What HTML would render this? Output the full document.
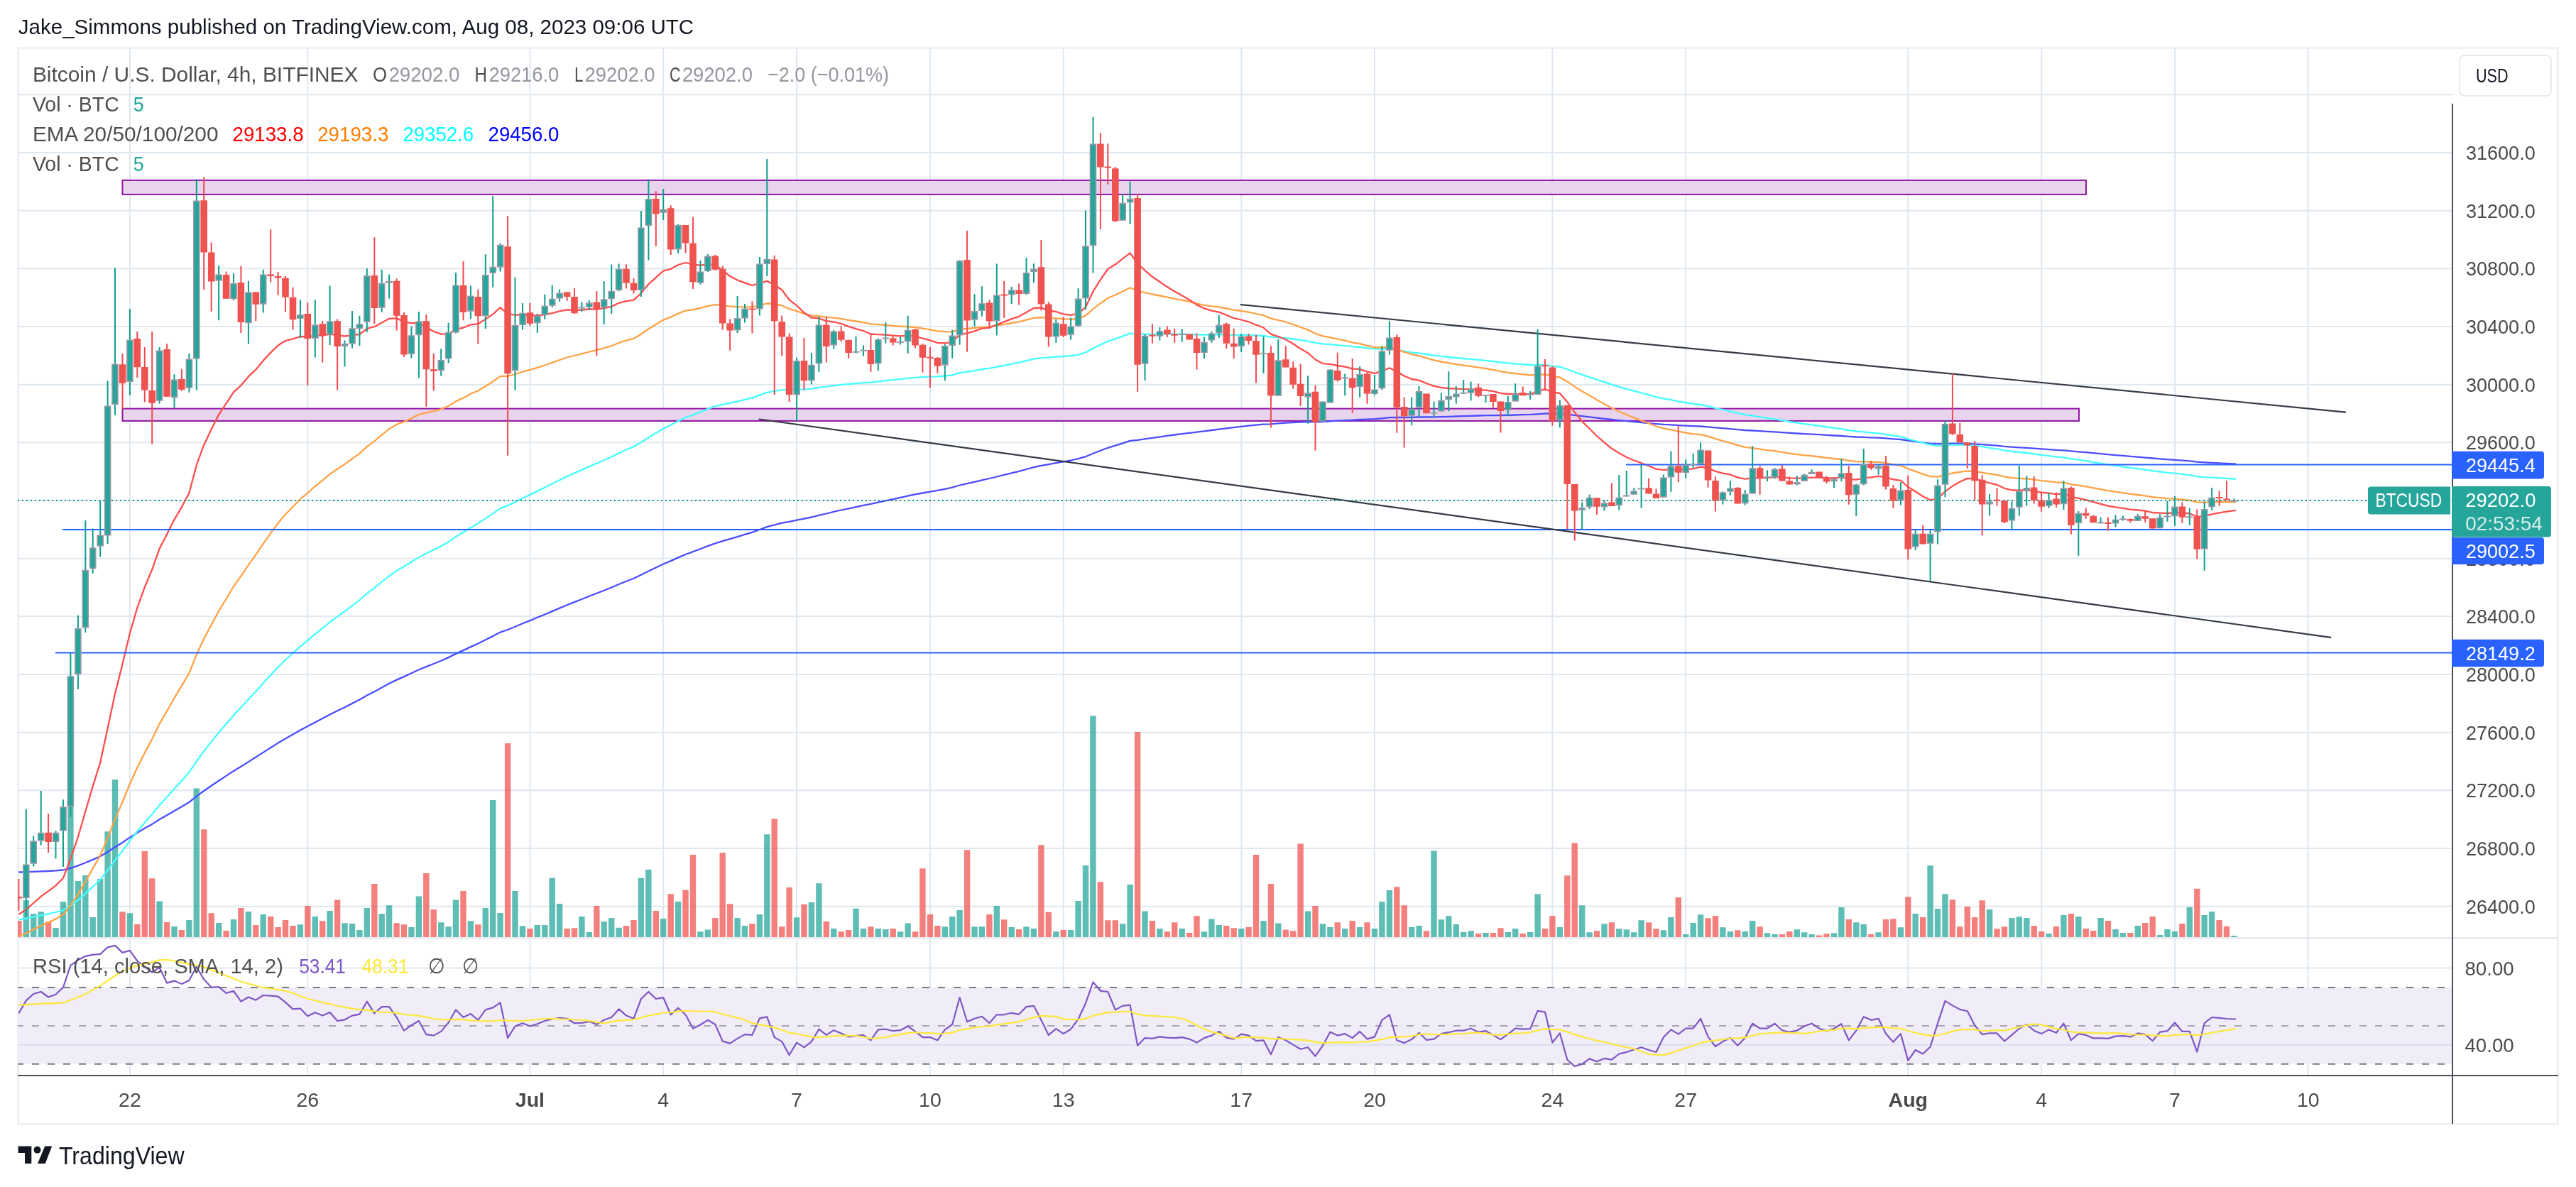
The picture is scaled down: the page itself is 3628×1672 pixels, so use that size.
<!DOCTYPE html><html><head><meta charset="utf-8"><style>html,body{margin:0;padding:0;background:#fff;width:3628px;height:1672px;overflow:hidden}svg{display:block;will-change:transform}text{font-family:"Liberation Sans",sans-serif}</style></head><body>
<svg width="3628" height="1672" viewBox="0 0 3628 1672">
<rect width="3628" height="1672" fill="#fff"/>
<defs><clipPath id="cp"><rect x="25" y="67" width="3428.5" height="1254"/></clipPath><clipPath id="cr"><rect x="25" y="1322" width="3428.5" height="192"/></clipPath></defs>
<path d="M25 133.3H3453.5M25 215H3453.5M25 296.7H3453.5M25 378.3H3453.5M25 460H3453.5M25 541.7H3453.5M25 623.3H3453.5M25 705H3453.5M25 786.7H3453.5M25 868.3H3453.5M25 950H3453.5M25 1031.7H3453.5M25 1113.3H3453.5M25 1195H3453.5M25 1276.7H3453.5M25 1363.5H3453.5M25 1471.7H3453.5M182.9 67V1514M433.3 67V1514M746.4 67V1514M934.2 67V1514M1122 67V1514M1309.9 67V1514M1497.7 67V1514M1748.2 67V1514M1936 67V1514M2186.4 67V1514M2374.2 67V1514M2687.3 67V1514M2875.1 67V1514M3063 67V1514M3250.8 67V1514" stroke="#dfe8f0" stroke-width="2" fill="none"/>
<rect x="25.5" y="67.5" width="3577" height="1516" fill="none" stroke="#e6e9ef" stroke-width="2"/>
<path d="M25 1321.3H3603" stroke="#e0e3eb" stroke-width="2"/>
<rect x="25" y="1391" width="3428.5" height="107.8" fill="#f0ecf8"/>
<path d="M25 1391H3453.5 M25 1498.8H3453.5" stroke="#787b86" stroke-width="2" stroke-dasharray="10 12" stroke-dashoffset="2"/>
<path d="M25 1445H3453.5" stroke="#a9a6b3" stroke-width="2" stroke-dasharray="10 12" stroke-dashoffset="2"/>
<path d="M25 1471.7H3453.5" stroke="#d8dff0" stroke-width="2"/>
<g clip-path="url(#cp)">
<rect x="172.5" y="253.9" width="2765.5" height="20" fill="#e9d4ee" stroke="#9115a3" stroke-width="2"/>
<rect x="172.5" y="575.6" width="2755.5" height="17.3" fill="#e9d4ee" stroke="#9115a3" stroke-width="2"/>
<path d="M32.6 1268h8.4V1320h-8.4zM43 1287.2h8.4V1320h-8.4zM53.5 1284.2h8.4V1320h-8.4zM74.3 1307h8.4V1320h-8.4zM84.8 1270.3h8.4V1320h-8.4zM95.2 1098h8.4V1320h-8.4zM105.7 1241h8.4V1320h-8.4zM116.1 1233.1h8.4V1320h-8.4zM126.5 1292.1h8.4V1320h-8.4zM137 1238h8.4V1320h-8.4zM147.4 1171.2h8.4V1320h-8.4zM157.8 1098h8.4V1320h-8.4zM178.7 1286.2h8.4V1320h-8.4zM220.4 1269.4h8.4V1320h-8.4zM241.3 1305.1h8.4V1320h-8.4zM262.2 1296h8.4V1320h-8.4zM272.6 1110.6h8.4V1320h-8.4zM303.9 1300.1h8.4V1320h-8.4zM324.8 1295.1h8.4V1320h-8.4zM345.7 1284h8.4V1320h-8.4zM366.5 1288h8.4V1320h-8.4zM418.7 1302.2h8.4V1320h-8.4zM439.6 1291h8.4V1320h-8.4zM460.4 1283h8.4V1320h-8.4zM481.3 1300.2h8.4V1320h-8.4zM491.8 1300.9h8.4V1320h-8.4zM502.2 1310.1h8.4V1320h-8.4zM512.6 1279.1h8.4V1320h-8.4zM533.5 1287.3h8.4V1320h-8.4zM543.9 1275.3h8.4V1320h-8.4zM575.2 1305.9h8.4V1320h-8.4zM585.7 1262.4h8.4V1320h-8.4zM617 1299.2h8.4V1320h-8.4zM627.4 1305.2h8.4V1320h-8.4zM637.8 1267.4h8.4V1320h-8.4zM658.7 1297.2h8.4V1320h-8.4zM679.6 1279.1h8.4V1320h-8.4zM690 1126.9h8.4V1320h-8.4zM700.4 1286h8.4V1320h-8.4zM721.3 1255h8.4V1320h-8.4zM731.8 1304.2h8.4V1320h-8.4zM752.6 1302.9h8.4V1320h-8.4zM763.1 1302.9h8.4V1320h-8.4zM773.5 1236.8h8.4V1320h-8.4zM783.9 1273.1h8.4V1320h-8.4zM815.2 1291h8.4V1320h-8.4zM825.7 1312.9h8.4V1320h-8.4zM846.5 1298h8.4V1320h-8.4zM857 1293h8.4V1320h-8.4zM867.4 1306.7h8.4V1320h-8.4zM898.7 1236.8h8.4V1320h-8.4zM909.1 1225.1h8.4V1320h-8.4zM930 1294h8.4V1320h-8.4zM950.9 1269.9h8.4V1320h-8.4zM982.2 1312.2h8.4V1320h-8.4zM992.6 1309.4h8.4V1320h-8.4zM1034.4 1293h8.4V1320h-8.4zM1044.8 1303.9h8.4V1320h-8.4zM1065.7 1288.1h8.4V1320h-8.4zM1076.1 1175.2h8.4V1320h-8.4zM1117.9 1292.2h8.4V1320h-8.4zM1138.7 1271.1h8.4V1320h-8.4zM1149.2 1244.3h8.4V1320h-8.4zM1170 1308h8.4V1320h-8.4zM1201.3 1279.8h8.4V1320h-8.4zM1211.8 1308h8.4V1320h-8.4zM1232.6 1308h8.4V1320h-8.4zM1243.1 1308.9h8.4V1320h-8.4zM1263.9 1312.2h8.4V1320h-8.4zM1274.4 1300.4h8.4V1320h-8.4zM1326.6 1305.3h8.4V1320h-8.4zM1337 1291.1h8.4V1320h-8.4zM1347.4 1282h8.4V1320h-8.4zM1368.3 1305.3h8.4V1320h-8.4zM1378.7 1305.3h8.4V1320h-8.4zM1399.6 1276h8.4V1320h-8.4zM1420.5 1306.1h8.4V1320h-8.4zM1441.3 1305.3h8.4V1320h-8.4zM1451.8 1308h8.4V1320h-8.4zM1483.1 1312.2h8.4V1320h-8.4zM1503.9 1310h8.4V1320h-8.4zM1514.4 1268.9h8.4V1320h-8.4zM1524.8 1219.1h8.4V1320h-8.4zM1535.2 1008.2h8.4V1320h-8.4zM1577 1301.2h8.4V1320h-8.4zM1587.4 1245.9h8.4V1320h-8.4zM1608.3 1283.4h8.4V1320h-8.4zM1629.2 1308h8.4V1320h-8.4zM1660.5 1308h8.4V1320h-8.4zM1691.8 1312.2h8.4V1320h-8.4zM1702.2 1294.4h8.4V1320h-8.4zM1712.6 1303.1h8.4V1320h-8.4zM1744 1308h8.4V1320h-8.4zM1775.3 1297.1h8.4V1320h-8.4zM1796.1 1300.4h8.4V1320h-8.4zM1837.9 1283.4h8.4V1320h-8.4zM1858.7 1301.2h8.4V1320h-8.4zM1869.2 1306.1h8.4V1320h-8.4zM1890 1308h8.4V1320h-8.4zM1910.9 1306.1h8.4V1320h-8.4zM1931.8 1308h8.4V1320h-8.4zM1942.2 1270.3h8.4V1320h-8.4zM1952.7 1254.1h8.4V1320h-8.4zM1984 1306.1h8.4V1320h-8.4zM1994.4 1303.9h8.4V1320h-8.4zM2015.3 1198.5h8.4V1320h-8.4zM2025.7 1295.2h8.4V1320h-8.4zM2036.1 1290.3h8.4V1320h-8.4zM2046.6 1302h8.4V1320h-8.4zM2057 1313h8.4V1320h-8.4zM2067.4 1311.3h8.4V1320h-8.4zM2088.3 1314.1h8.4V1320h-8.4zM2119.6 1313h8.4V1320h-8.4zM2130 1308h8.4V1320h-8.4zM2150.9 1313h8.4V1320h-8.4zM2161.4 1259.3h8.4V1320h-8.4zM2192.7 1306.1h8.4V1320h-8.4zM2224 1275.2h8.4V1320h-8.4zM2234.4 1313.2h8.4V1320h-8.4zM2255.3 1301.2h8.4V1320h-8.4zM2276.1 1308.2h8.4V1320h-8.4zM2286.6 1309.2h8.4V1320h-8.4zM2297 1313.2h8.4V1320h-8.4zM2307.4 1296.3h8.4V1320h-8.4zM2338.7 1310.2h8.4V1320h-8.4zM2349.2 1292h8.4V1320h-8.4zM2370.1 1316.1h8.4V1320h-8.4zM2380.5 1300h8.4V1320h-8.4zM2390.9 1288.3h8.4V1320h-8.4zM2422.2 1306.2h8.4V1320h-8.4zM2432.7 1311.9h8.4V1320h-8.4zM2453.5 1311.9h8.4V1320h-8.4zM2464 1297h8.4V1320h-8.4zM2484.8 1314.2h8.4V1320h-8.4zM2495.3 1316.1h8.4V1320h-8.4zM2526.6 1309.2h8.4V1320h-8.4zM2537 1313.2h8.4V1320h-8.4zM2547.4 1316.1h8.4V1320h-8.4zM2578.8 1314.2h8.4V1320h-8.4zM2589.2 1277.9h8.4V1320h-8.4zM2610.1 1299.3h8.4V1320h-8.4zM2620.5 1302h8.4V1320h-8.4zM2641.4 1313.2h8.4V1320h-8.4zM2672.7 1306.2h8.4V1320h-8.4zM2693.5 1287.1h8.4V1320h-8.4zM2714.4 1219.3h8.4V1320h-8.4zM2724.8 1280.1h8.4V1320h-8.4zM2735.3 1259.3h8.4V1320h-8.4zM2797.9 1281.1h8.4V1320h-8.4zM2829.2 1293h8.4V1320h-8.4zM2839.6 1291.3h8.4V1320h-8.4zM2850.1 1293h8.4V1320h-8.4zM2881.4 1315h8.4V1320h-8.4zM2902.2 1289.1h8.4V1320h-8.4zM2923.1 1290.9h8.4V1320h-8.4zM2954.4 1293h8.4V1320h-8.4zM2975.3 1308.9h8.4V1320h-8.4zM2985.7 1313.9h8.4V1320h-8.4zM3006.6 1304h8.4V1320h-8.4zM3037.9 1316.9h8.4V1320h-8.4zM3048.3 1308.9h8.4V1320h-8.4zM3058.8 1311.9h8.4V1320h-8.4zM3079.6 1277.9h8.4V1320h-8.4zM3100.5 1288.9h8.4V1320h-8.4zM3110.9 1284h8.4V1320h-8.4zM3142.2 1317.9h8.4V1320h-8.4z" fill="#26a69a" fill-opacity="0.74"/>
<path d="M22.2 1297.1h8.4V1320h-8.4zM63.9 1298.3h8.4V1320h-8.4zM168.3 1284.2h8.4V1320h-8.4zM189.1 1302.1h8.4V1320h-8.4zM199.6 1199h8.4V1320h-8.4zM210 1237.2h8.4V1320h-8.4zM230.9 1299.1h8.4V1320h-8.4zM251.7 1310h8.4V1320h-8.4zM283.1 1168.2h8.4V1320h-8.4zM293.5 1286.2h8.4V1320h-8.4zM314.4 1311h8.4V1320h-8.4zM335.2 1279h8.4V1320h-8.4zM356.1 1302.9h8.4V1320h-8.4zM377 1291h8.4V1320h-8.4zM387.4 1305.9h8.4V1320h-8.4zM397.8 1296h8.4V1320h-8.4zM408.3 1303.9h8.4V1320h-8.4zM429.1 1276.1h8.4V1320h-8.4zM450 1297.2h8.4V1320h-8.4zM470.9 1267.4h8.4V1320h-8.4zM523.1 1245h8.4V1320h-8.4zM554.4 1300.2h8.4V1320h-8.4zM564.8 1302.2h8.4V1320h-8.4zM596.1 1230.1h8.4V1320h-8.4zM606.5 1281.1h8.4V1320h-8.4zM648.3 1255h8.4V1320h-8.4zM669.1 1302.2h8.4V1320h-8.4zM710.9 1046.9h8.4V1320h-8.4zM742.2 1307.9h8.4V1320h-8.4zM794.4 1307.9h8.4V1320h-8.4zM804.8 1307.2h8.4V1320h-8.4zM836.1 1276.1h8.4V1320h-8.4zM877.8 1303.9h8.4V1320h-8.4zM888.3 1296h8.4V1320h-8.4zM919.6 1283h8.4V1320h-8.4zM940.5 1259.2h8.4V1320h-8.4zM961.3 1253.7h8.4V1320h-8.4zM971.8 1204h8.4V1320h-8.4zM1003.1 1293h8.4V1320h-8.4zM1013.5 1201.3h8.4V1320h-8.4zM1023.9 1273.3h8.4V1320h-8.4zM1055.2 1301.2h8.4V1320h-8.4zM1086.5 1153.3h8.4V1320h-8.4zM1097 1305.3h8.4V1320h-8.4zM1107.4 1250h8.4V1320h-8.4zM1128.3 1273.8h8.4V1320h-8.4zM1159.6 1297.9h8.4V1320h-8.4zM1180.5 1312.2h8.4V1320h-8.4zM1190.9 1310h8.4V1320h-8.4zM1222.2 1305.3h8.4V1320h-8.4zM1253.5 1308h8.4V1320h-8.4zM1284.8 1312.2h8.4V1320h-8.4zM1295.2 1223.2h8.4V1320h-8.4zM1305.7 1288.1h8.4V1320h-8.4zM1316.1 1303.9h8.4V1320h-8.4zM1357.9 1197.2h8.4V1320h-8.4zM1389.2 1288.1h8.4V1320h-8.4zM1410 1295.2h8.4V1320h-8.4zM1430.9 1308.9h8.4V1320h-8.4zM1462.2 1190.3h8.4V1320h-8.4zM1472.6 1284.8h8.4V1320h-8.4zM1493.5 1310h8.4V1320h-8.4zM1545.7 1242.3h8.4V1320h-8.4zM1556.1 1296.3h8.4V1320h-8.4zM1566.6 1296.3h8.4V1320h-8.4zM1597.9 1030.9h8.4V1320h-8.4zM1618.7 1297.1h8.4V1320h-8.4zM1639.6 1312.2h8.4V1320h-8.4zM1650 1299.3h8.4V1320h-8.4zM1670.9 1314.1h8.4V1320h-8.4zM1681.3 1290.3h8.4V1320h-8.4zM1723.1 1303.9h8.4V1320h-8.4zM1733.5 1307.2h8.4V1320h-8.4zM1754.4 1306.1h8.4V1320h-8.4zM1764.8 1204h8.4V1320h-8.4zM1785.7 1245.1h8.4V1320h-8.4zM1806.6 1309.4h8.4V1320h-8.4zM1817 1311.3h8.4V1320h-8.4zM1827.4 1188.4h8.4V1320h-8.4zM1848.3 1276h8.4V1320h-8.4zM1879.6 1299.3h8.4V1320h-8.4zM1900.5 1297.1h8.4V1320h-8.4zM1921.3 1299.3h8.4V1320h-8.4zM1963.1 1249.2h8.4V1320h-8.4zM1973.5 1275.2h8.4V1320h-8.4zM2004.8 1311.3h8.4V1320h-8.4zM2077.9 1314.9h8.4V1320h-8.4zM2098.7 1314.1h8.4V1320h-8.4zM2109.2 1307.2h8.4V1320h-8.4zM2140.5 1314.9h8.4V1320h-8.4zM2171.8 1308h8.4V1320h-8.4zM2182.2 1290.3h8.4V1320h-8.4zM2203.1 1233.3h8.4V1320h-8.4zM2213.5 1187.6h8.4V1320h-8.4zM2244.8 1311.2h8.4V1320h-8.4zM2265.7 1299.3h8.4V1320h-8.4zM2317.9 1299.3h8.4V1320h-8.4zM2328.3 1308.2h8.4V1320h-8.4zM2359.6 1264h8.4V1320h-8.4zM2401.4 1293.3h8.4V1320h-8.4zM2411.8 1290.1h8.4V1320h-8.4zM2443.1 1310.2h8.4V1320h-8.4zM2474.4 1305.2h8.4V1320h-8.4zM2505.7 1316.1h8.4V1320h-8.4zM2516.1 1311.9h8.4V1320h-8.4zM2557.9 1317.4h8.4V1320h-8.4zM2568.3 1315.2h8.4V1320h-8.4zM2599.6 1295h8.4V1320h-8.4zM2630.9 1316.1h8.4V1320h-8.4zM2651.8 1295h8.4V1320h-8.4zM2662.2 1294.3h8.4V1320h-8.4zM2683.1 1263.2h8.4V1320h-8.4zM2704 1292h8.4V1320h-8.4zM2745.7 1267.2h8.4V1320h-8.4zM2756.1 1305.2h8.4V1320h-8.4zM2766.6 1277.1h8.4V1320h-8.4zM2777 1292h8.4V1320h-8.4zM2787.5 1268.2h8.4V1320h-8.4zM2808.3 1308.2h8.4V1320h-8.4zM2818.8 1305.2h8.4V1320h-8.4zM2860.5 1304h8.4V1320h-8.4zM2870.9 1312h8.4V1320h-8.4zM2891.8 1305.1h8.4V1320h-8.4zM2912.7 1287.1h8.4V1320h-8.4zM2933.5 1308h8.4V1320h-8.4zM2944 1311.1h8.4V1320h-8.4zM2964.8 1297h8.4V1320h-8.4zM2996.2 1313.9h8.4V1320h-8.4zM3017 1299.9h8.4V1320h-8.4zM3027.5 1290.9h8.4V1320h-8.4zM3069.2 1300.9h8.4V1320h-8.4zM3090.1 1251.8h8.4V1320h-8.4zM3121.4 1295.9h8.4V1320h-8.4zM3131.8 1304.8h8.4V1320h-8.4z" fill="#ef5350" fill-opacity="0.74"/>
<polyline points="26.4,1228.5 36.8,1228.4 47.2,1227.9 57.7,1227.4 68.1,1227 78.5,1226.4 89,1225.5 99.4,1222.8 109.9,1219.4 120.3,1215.3 130.7,1210.9 141.2,1206.3 151.6,1200 162,1193.2 172.5,1186.7 182.9,1179.6 193.3,1173 203.8,1166.8 214.2,1160.9 224.6,1154.2 235.1,1148.3 245.5,1142.2 255.9,1136.3 266.4,1130 276.8,1121.6 287.2,1114 297.7,1106.8 308.1,1099.7 318.6,1092.9 329,1086 339.4,1079.7 349.9,1073.1 360.3,1066.6 370.7,1059.9 381.2,1053.2 391.6,1046.6 402,1040.4 412.5,1034.5 422.9,1028.6 433.3,1023.1 443.8,1017.5 454.2,1012.1 464.6,1006.5 475.1,1001.3 485.5,996.2 496,990.9 506.4,985.6 516.8,979.6 527.3,974.2 537.7,968.5 548.1,962.8 558.6,957.6 569,953.1 579.4,948.3 589.9,943.3 600.3,939.1 610.7,935 621.2,930.7 631.6,926.1 642,920.9 652.5,916.1 662.9,911.1 673.3,906.5 683.8,901.3 694.2,896.1 704.6,890.6 715.1,887 725.5,882.7 736,878.3 746.4,874.1 756.8,869.8 767.3,865.5 777.7,861.1 788.1,856.6 798.6,852.2 809,848.1 819.4,844 829.9,839.8 840.3,835.8 850.7,831.7 861.2,827.5 871.6,823 882,818.8 892.5,814.7 902.9,809.8 913.4,804.5 923.8,799.5 934.2,794.5 944.7,790.1 955.1,785.4 965.5,781 976,777.2 986.4,773.2 996.8,769.1 1007.3,765.3 1017.7,762.2 1028.1,759.2 1038.6,756.1 1049,752.9 1059.4,749.8 1069.9,746 1080.3,742.2 1090.7,739.3 1101.2,736.7 1111.6,734.9 1122.1,732.7 1132.5,730.7 1142.9,728.5 1153.4,725.8 1163.8,723.5 1174.2,720.9 1184.7,718.5 1195.1,716.3 1205.5,714.1 1216,711.9 1226.4,709.9 1236.8,707.6 1247.3,705.3 1257.7,703.1 1268.1,700.9 1278.6,698.5 1289,696.4 1299.4,694.5 1309.9,692.6 1320.3,690.8 1330.8,688.8 1341.2,686.7 1351.6,683.5 1362.1,681.2 1372.5,678.8 1382.9,676.3 1393.4,674 1403.8,671.5 1414.2,668.9 1424.7,666.3 1435.1,663.8 1445.5,661 1456,658.2 1466.4,655.9 1476.8,654.1 1487.3,652.1 1497.7,650.4 1508.1,648.5 1518.6,646.2 1529,643.2 1539.5,638.8 1549.9,634.8 1560.3,630.8 1570.8,627.7 1581.2,624.3 1591.6,620.8 1602.1,619.8 1612.5,618.3 1622.9,616.9 1633.4,615.4 1643.8,613.9 1654.2,612.5 1664.7,611.1 1675.1,609.8 1685.5,608.7 1696,607.4 1706.4,606 1716.8,604.6 1727.3,603.4 1737.7,602.2 1748.2,600.9 1758.6,599.7 1769,598.7 1779.5,597.7 1789.9,597.3 1800.3,596.4 1810.8,595.6 1821.2,595.1 1831.6,594.7 1842.1,594.3 1852.5,594.3 1862.9,594 1873.4,593.3 1883.8,592.7 1894.2,592.1 1904.7,591.7 1915.1,591 1925.5,590.7 1936,590.2 1946.4,589.3 1956.9,588.2 1967.3,588 1977.7,588 1988.2,587.9 1998.6,587.5 2009,587.5 2019.5,587.4 2029.9,587.1 2040.3,586.9 2050.8,586.5 2061.2,586.2 2071.6,585.8 2082.1,585.5 2092.5,585.2 2102.9,585.1 2113.4,585 2123.8,584.8 2134.2,584.5 2144.7,584.2 2155.1,583.9 2165.6,583.3 2176,582.6 2186.4,582.7 2196.9,582.6 2207.3,583.6 2217.7,584.9 2228.2,586.2 2238.6,587.3 2249,588.6 2259.5,589.8 2269.9,591 2280.3,592.1 2290.8,593.2 2301.2,594.1 2311.6,595.1 2322.1,596.1 2332.5,597.1 2342.9,597.9 2353.4,598.4 2363.8,599.1 2374.2,599.7 2384.7,600.2 2395.1,600.5 2405.6,601.3 2416,602.3 2426.4,603.2 2436.9,604.1 2447.3,605.1 2457.7,606 2468.2,606.5 2478.6,607.2 2489,607.8 2499.5,608.4 2509.9,609.1 2520.3,609.8 2530.8,610.5 2541.2,611.1 2551.6,611.6 2562.1,612.2 2572.5,612.9 2583,613.5 2593.4,614 2603.8,614.8 2614.3,615.5 2624.7,615.9 2635.1,616.3 2645.6,616.7 2656,617.4 2666.4,618.3 2676.9,619 2687.3,620.5 2697.7,621.8 2708.2,623.3 2718.6,624.6 2729,625.1 2739.5,624.9 2749.9,624.7 2760.3,624.7 2770.8,624.7 2781.2,625.3 2791.7,626.1 2802.1,626.9 2812.5,627.7 2823,628.8 2833.4,629.6 2843.8,630.3 2854.3,630.8 2864.7,631.6 2875.1,632.4 2885.6,633.1 2896,633.9 2906.4,634.4 2916.9,635.4 2927.3,636.3 2937.7,637.2 2948.2,638.2 2958.6,639.2 2969,640.1 2979.5,641.1 2989.9,641.9 3000.4,642.9 3010.8,643.7 3021.2,644.6 3031.7,645.5 3042.1,646.4 3052.5,647.2 3063,647.8 3073.4,648.6 3083.8,649.4 3094.3,650.7 3104.7,651.3 3115.1,651.8 3125.6,652.3 3136,652.8 3146.4,653.3 3149,653.3" fill="none" stroke="#4d4dff" stroke-width="2.3" stroke-linejoin="round"/>
<polyline points="26.4,1295.4 36.8,1293.9 47.2,1291.7 57.7,1289.3 68.1,1287.3 78.5,1285 89,1282.1 99.4,1275.5 109.9,1267.8 120.3,1258.6 130.7,1249 141.2,1239.1 151.6,1225.9 162,1211.8 172.5,1198.5 182.9,1184.2 193.3,1171 203.8,1158.7 214.2,1147 224.6,1134.1 235.1,1122.7 245.5,1111 255.9,1099.9 266.4,1088.1 276.8,1072.2 287.2,1058 297.7,1044.9 308.1,1031.8 318.6,1019.7 329,1007.4 339.4,996.5 349.9,984.9 360.3,973.9 370.7,962.3 381.2,950.9 391.6,939.8 402,929.5 412.5,920 422.9,910.6 433.3,902 443.8,893.2 454.2,884.9 464.6,876.3 475.1,868.6 485.5,861 496,853.1 506.4,845.2 516.8,836.2 527.3,828.2 537.7,819.7 548.1,811.3 558.6,804.1 569,798 579.4,791.6 589.9,784.9 600.3,779.6 610.7,774.5 621.2,769.2 631.6,763.3 642,756.1 652.5,749.8 662.9,743.2 673.3,737.3 683.8,730.4 694.2,723.4 704.6,715.9 715.1,712.1 725.5,707.1 736,701.8 746.4,696.9 756.8,691.9 767.3,686.8 777.7,681.5 788.1,676.2 798.6,671.1 809,666.5 819.4,661.9 829.9,657.2 840.3,652.8 850.7,648.3 861.2,643.5 871.6,638.3 882,633.5 892.5,629.1 902.9,623 913.4,616.2 923.8,610 934.2,603.7 944.7,598.7 955.1,593.1 965.5,588.2 976,584.4 986.4,580.4 996.8,576.1 1007.3,572.2 1017.7,569.9 1028.1,567.8 1038.6,565.4 1049,562.8 1059.4,560.3 1069.9,556.6 1080.3,552.8 1090.7,550.8 1101.2,549.3 1111.6,549.4 1122.1,548.6 1132.5,548.3 1142.9,547.7 1153.4,545.9 1163.8,544.7 1174.2,543.2 1184.7,541.9 1195.1,541 1205.5,540.1 1216,539.2 1226.4,538.6 1236.8,537.4 1247.3,536.2 1257.7,535.1 1268.1,534.1 1278.6,532.7 1289,531.8 1299.4,531.2 1309.9,530.7 1320.3,530.4 1330.8,529.5 1341.2,528.4 1351.6,525.2 1362.1,523.8 1372.5,522.1 1382.9,520.2 1393.4,518.8 1403.8,516.8 1414.2,514.8 1424.7,512.7 1435.1,510.7 1445.5,508.2 1456,505.7 1466.4,504.1 1476.8,503.6 1487.3,502.6 1497.7,502 1508.1,501.2 1518.6,499.6 1529,496.5 1539.5,490.7 1549.9,485.6 1560.3,480.7 1570.8,477.4 1581.2,473.6 1591.6,469.7 1602.1,470.6 1612.5,470.6 1622.9,470.7 1633.4,470.6 1643.8,470.6 1654.2,470.7 1664.7,470.7 1675.1,470.8 1685.5,471.3 1696,471.5 1706.4,471.5 1716.8,471.2 1727.3,471.5 1737.7,471.8 1748.2,471.8 1758.6,472 1769,472.6 1779.5,473 1789.9,474.7 1800.3,475.4 1810.8,476.2 1821.2,477.5 1831.6,479.1 1842.1,480.6 1852.5,482.8 1862.9,484.4 1873.4,485.2 1883.8,486.2 1894.2,487.1 1904.7,488.2 1915.1,489 1925.5,490.3 1936,491.4 1946.4,491.5 1956.9,491.2 1967.3,492.8 1977.7,494.7 1988.2,496.3 1998.6,497.4 2009,499 2019.5,500.7 2029.9,501.9 2040.3,503 2050.8,504 2061.2,505 2071.6,505.8 2082.1,506.9 2092.5,507.8 2102.9,509 2113.4,510.4 2123.8,511.5 2134.2,512.3 2144.7,513.2 2155.1,514 2165.6,514.1 2176,514.1 2186.4,515.7 2196.9,516.8 2207.3,520 2217.7,524 2228.2,527.8 2238.6,531.2 2249,534.8 2259.5,538.2 2269.9,541.7 2280.3,544.8 2290.8,547.9 2301.2,550.7 2311.6,553.4 2322.1,556.2 2332.5,559.1 2342.9,561.4 2353.4,563.2 2363.8,565.3 2374.2,567 2384.7,568.8 2395.1,570 2405.6,572.1 2416,574.8 2426.4,577.1 2436.9,579.3 2447.3,581.9 2457.7,584.1 2468.2,585.6 2478.6,587.4 2489,589 2499.5,590.4 2509.9,592.2 2520.3,594 2530.8,595.6 2541.2,597.1 2551.6,598.4 2562.1,599.9 2572.5,601.5 2583,602.9 2593.4,604.2 2603.8,606 2614.3,607.5 2624.7,608.4 2635.1,609.4 2645.6,610.4 2656,611.9 2666.4,613.7 2676.9,615.2 2687.3,618.4 2697.7,621 2708.2,623.9 2718.6,626.4 2729,627.6 2739.5,627 2749.9,626.6 2760.3,626.6 2770.8,626.6 2781.2,627.6 2791.7,629.2 2802.1,630.8 2812.5,632.3 2823,634.3 2833.4,635.9 2843.8,637 2854.3,638 2864.7,639.3 2875.1,640.8 2885.6,642.1 2896,643.4 2906.4,644.3 2916.9,646.2 2927.3,647.7 2937.7,649.2 2948.2,651 2958.6,652.6 2969,654.3 2979.5,655.9 2989.9,657.3 3000.4,658.8 3010.8,660.2 3021.2,661.6 3031.7,663.2 3042.1,664.5 3052.5,665.8 3063,666.7 3073.4,667.9 3083.8,669.1 3094.3,671.2 3104.7,672.1 3115.1,672.7 3125.6,673.2 3136,673.8 3146.4,674.5 3149,674.5" fill="none" stroke="#45ffff" stroke-width="2.3" stroke-linejoin="round"/>
<polyline points="26.4,1318.4 36.8,1314.5 47.2,1309.4 57.7,1304 68.1,1299.4 78.5,1294.4 89,1288.2 99.4,1275.1 109.9,1259.8 120.3,1241.8 130.7,1223.4 141.2,1205 151.6,1180.1 162,1153.9 172.5,1129.8 182.9,1104.3 193.3,1081.3 203.8,1060.4 214.2,1041.1 224.6,1019.6 235.1,1001.6 245.5,983.2 255.9,966.2 266.4,948.1 276.8,922 287.2,899.8 297.7,880.1 308.1,860.7 318.6,843.5 329,826 339.4,811.4 349.9,795.8 360.3,781.4 370.7,765.9 381.2,751.1 391.6,737 402,724.5 412.5,713.8 422.9,703.1 433.3,694.3 443.8,685 454.2,676.6 464.6,667.8 475.1,660.8 485.5,653.9 496,646.3 506.4,638.9 516.8,629.1 527.3,621.4 537.7,612.7 548.1,604.2 558.6,597.9 569,594.1 579.4,589.3 589.9,583.9 600.3,581.4 610.7,579.1 621.2,576.3 631.6,572 642,565.4 652.5,560.4 662.9,554.8 673.3,550.5 683.8,544.1 694.2,537.5 704.6,529.9 715.1,529.8 725.5,527 736,523.6 746.4,520.9 756.8,517.9 767.3,514.5 777.7,510.8 788.1,507 798.6,503.5 809,501 819.4,498.4 829.9,495.5 840.3,493.2 850.7,490.4 861.2,487.2 871.6,483 882,479.7 892.5,476.9 902.9,470.8 913.4,463.3 923.8,456.9 934.2,450.6 944.7,446.7 955.1,441.6 965.5,437.7 976,436.1 986.4,434 996.8,431.1 1007.3,429.1 1017.7,430.2 1028.1,431.6 1038.6,432.2 1049,432.3 1059.4,432.4 1069.9,430.1 1080.3,427.5 1090.7,428.5 1101.2,430.3 1111.6,435.2 1122.1,438.1 1132.5,441.9 1142.9,444.7 1153.4,445.2 1163.8,446.9 1174.2,447.7 1184.7,448.9 1195.1,450.8 1205.5,452.5 1216,454.1 1226.4,456.4 1236.8,457.2 1247.3,457.9 1257.7,458.9 1268.1,459.8 1278.6,460 1289,461 1299.4,462.7 1309.9,464.3 1320.3,466.3 1330.8,467.1 1341.2,467.4 1351.6,463.4 1362.1,463 1372.5,462 1382.9,460.6 1393.4,460.3 1403.8,458.5 1414.2,456.9 1424.7,455 1435.1,453.4 1445.5,450.6 1456,447.8 1466.4,447.1 1476.8,448.1 1487.3,448.4 1497.7,449.3 1508.1,449.7 1518.6,448.6 1529,444.6 1539.5,435.1 1549.9,427.3 1560.3,419.8 1570.8,415.5 1581.2,410.5 1591.6,405.3 1602.1,409.6 1612.5,412.1 1622.9,414.5 1633.4,416.5 1643.8,418.6 1654.2,420.8 1664.7,422.7 1675.1,424.9 1685.5,427.7 1696,429.8 1706.4,431.4 1716.8,432.4 1727.3,434.5 1737.7,436.6 1748.2,438 1758.6,439.7 1769,442 1779.5,444.2 1789.9,448.6 1800.3,450.9 1810.8,453.5 1821.2,457 1831.6,460.9 1842.1,464.6 1852.5,469.7 1862.9,473.4 1873.4,475.3 1883.8,477.6 1894.2,479.7 1904.7,482.3 1915.1,484.1 1925.5,486.9 1936,489.3 1946.4,489.5 1956.9,488.9 1967.3,492.3 1977.7,495.9 1988.2,499.1 1998.6,501.1 2009,504.3 2019.5,507.3 2029.9,509.5 2040.3,511.4 2050.8,513.1 2061.2,514.6 2071.6,515.9 2082.1,517.6 2092.5,519.1 2102.9,520.9 2113.4,523.2 2123.8,524.9 2134.2,526 2144.7,527.3 2155.1,528.3 2165.6,527.8 2176,527.4 2186.4,529.9 2196.9,531.5 2207.3,537.4 2217.7,544.6 2228.2,551.3 2238.6,557.1 2249,563.3 2259.5,569 2269.9,574.6 2280.3,579.5 2290.8,584.2 2301.2,588.4 2311.6,592.3 2322.1,596.3 2332.5,600.5 2342.9,603.3 2353.4,605.4 2363.8,607.7 2374.2,609.6 2384.7,611.3 2395.1,612.1 2405.6,614.7 2416,618.2 2426.4,621.2 2436.9,623.8 2447.3,627.1 2457.7,629.8 2468.2,631 2478.6,632.6 2489,634.1 2499.5,635.2 2509.9,636.8 2520.3,638.6 2530.8,640.2 2541.2,641.3 2551.6,642.2 2562.1,643.5 2572.5,644.8 2583,646 2593.4,646.8 2603.8,648.8 2614.3,650.1 2624.7,650.2 2635.1,650.6 2645.6,650.8 2656,652.2 2666.4,654.3 2676.9,655.7 2687.3,660.3 2697.7,663.9 2708.2,667.9 2718.6,671.2 2729,671.7 2739.5,668.8 2749.9,666.5 2760.3,664.8 2770.8,663.4 2781.2,663.9 2791.7,665.7 2802.1,667.3 2812.5,668.8 2823,671.4 2833.4,673.2 2843.8,673.9 2854.3,674.4 2864.7,675.6 2875.1,677.1 2885.6,678.2 2896,679.4 2906.4,679.7 2916.9,682.1 2927.3,683.7 2937.7,685.4 2948.2,687.4 2958.6,689.2 2969,691.2 2979.5,692.7 2989.9,694.2 3000.4,695.8 3010.8,697 3021.2,698.3 3031.7,700.1 3042.1,701.2 3052.5,702.2 3063,702.7 3073.4,703.7 3083.8,704.6 3094.3,707.3 3104.7,707.7 3115.1,707.4 3125.6,707.2 3136,707.1 3146.4,707 3149,707" fill="none" stroke="#ffa245" stroke-width="2.3" stroke-linejoin="round"/>
<polyline points="26.4,1287.9 36.8,1281.2 47.2,1272 57.7,1262.6 68.1,1255.3 78.5,1247.4 89,1236.8 99.4,1209.7 109.9,1178.8 120.3,1143 130.7,1107.6 141.2,1073.9 151.6,1026 162,977.1 172.5,935.5 182.9,891.9 193.3,856.2 203.8,827 214.2,802.3 224.6,772.9 235.1,752.5 245.5,731.8 255.9,714.3 266.4,694.4 276.8,655.2 287.2,626.7 297.7,604.7 308.1,584 318.6,568.4 329,552.3 339.4,542.9 349.9,530.4 360.3,520.7 370.7,507.9 381.2,496.6 391.6,486.6 402,480.1 412.5,477.3 422.9,474 433.3,474.3 443.8,472.7 454.2,472.7 464.6,470.7 475.1,472.4 485.5,473.5 496,472.4 506.4,470.9 516.8,463 527.3,460.2 537.7,454.4 548.1,448.8 558.6,448.4 569,453.3 579.4,455.1 589.9,454.8 600.3,461.1 610.7,466.9 621.2,470.7 631.6,470.5 642,463.9 652.5,461.6 662.9,457.3 673.3,456.2 683.8,449.6 694.2,442.6 704.6,433.2 715.1,442.1 725.5,443.6 736,443.3 746.4,444.5 756.8,444.5 767.3,443.2 777.7,441.1 788.1,438.3 798.6,436.4 809,436.9 819.4,436.5 829.9,435.5 840.3,435.6 850.7,434.2 861.2,431.9 871.6,426.8 882,424.1 892.5,422.7 902.9,413 913.4,400.3 923.8,390.9 934.2,381.7 944.7,378.8 955.1,373 965.5,370 976,372.6 986.4,373.6 996.8,372.3 1007.3,373 1017.7,380.9 1028.1,389 1038.6,394.6 1049,398.4 1059.4,402 1069.9,399.1 1080.3,395.8 1090.7,401.2 1101.2,408.2 1111.6,422.3 1122.1,430.4 1132.5,440.5 1142.9,447.5 1153.4,448.4 1163.8,452.2 1174.2,453.5 1184.7,455.9 1195.1,459.9 1205.5,463.2 1216,466 1226.4,470.5 1236.8,471.2 1247.3,471.6 1257.7,472.6 1268.1,473.4 1278.6,472.6 1289,473.9 1299.4,476.7 1309.9,479.4 1320.3,482.9 1330.8,483.3 1341.2,482.2 1351.6,471.3 1362.1,469.4 1372.5,466.4 1382.9,462.7 1393.4,461.7 1403.8,457.3 1414.2,453.4 1424.7,449.1 1435.1,445.8 1445.5,439.9 1456,434 1466.4,433.5 1476.8,437.4 1487.3,439 1497.7,442.3 1508.1,443.9 1518.6,441.7 1529,432.6 1539.5,410.7 1549.9,394 1560.3,379 1570.8,372.6 1581.2,364.3 1591.6,356.3 1602.1,371.2 1612.5,380.9 1622.9,389.8 1633.4,397 1643.8,404.1 1654.2,410.6 1664.7,416.3 1675.1,422.2 1685.5,429.4 1696,434.4 1706.4,437.7 1716.8,439.6 1727.3,443.8 1737.7,448.1 1748.2,450.5 1758.6,453.3 1769,457.7 1779.5,461.5 1789.9,470.6 1800.3,474.1 1810.8,478.2 1821.2,484.3 1831.6,491.3 1842.1,497.2 1852.5,506.5 1862.9,512.1 1873.4,512.9 1883.8,515 1894.2,516.6 1904.7,519.4 1915.1,520.2 1925.5,523.4 1936,525.8 1946.4,522.8 1956.9,518.3 1967.3,523.6 1977.7,529.6 1988.2,534 1998.6,535.6 2009,540 2019.5,543.9 2029.9,545.8 2040.3,547 2050.8,547.7 2061.2,548.1 2071.6,548.1 2082.1,549 2092.5,549.7 2102.9,551.2 2113.4,553.9 2123.8,555 2134.2,555 2144.7,555.2 2155.1,555.1 2165.6,551.3 2176,548 2186.4,552.3 2196.9,554 2207.3,566.2 2217.7,580.8 2228.2,593.6 2238.6,603.8 2249,614.3 2259.5,623.2 2269.9,631.8 2280.3,638.3 2290.8,644 2301.2,648.5 2311.6,652.2 2322.1,656.3 2332.5,660.7 2342.9,661.8 2353.4,661.3 2363.8,661.7 2374.2,661 2384.7,660.3 2395.1,657.7 2405.6,659.5 2416,663.9 2426.4,666.7 2436.9,668.7 2447.3,672.6 2457.7,674.7 2468.2,673.3 2478.6,673.3 2489,673.1 2499.5,671.9 2509.9,672.4 2520.3,673.4 2530.8,673.9 2541.2,673.4 2551.6,672.6 2562.1,672.7 2572.5,673.2 2583,673.3 2593.4,672.7 2603.8,675 2614.3,675.7 2624.7,673.6 2635.1,672.3 2645.6,670.8 2656,672.2 2666.4,675.3 2676.9,676.8 2687.3,686 2697.7,692.3 2708.2,699.3 2718.6,704.3 2729,702.3 2739.5,692.3 2749.9,684.6 2760.3,678.8 2770.8,673.9 2781.2,674.2 2791.7,677.7 2802.1,680.4 2812.5,682.8 2823,687.8 2833.4,690.5 2843.8,690.6 2854.3,690.3 2864.7,691.6 2875.1,693.7 2885.6,694.7 2896,696.2 2906.4,695.4 2916.9,699.6 2927.3,701.8 2937.7,704.2 2948.2,707.2 2958.6,709.9 2969,712.6 2979.5,714.4 2989.9,715.9 3000.4,717.6 3010.8,718.5 3021.2,719.6 3031.7,722 3042.1,722.6 3052.5,723 3063,722.1 3073.4,722.7 3083.8,723.2 3094.3,728 3104.7,726.9 3115.1,724.4 3125.6,722.3 3136,720.6 3146.4,719.1 3149,719.1" fill="none" stroke="#ff4d4d" stroke-width="2.3" stroke-linejoin="round"/>
<path d="M2290 654.5H3454M88 746H3454M78 919.5H3454" stroke="#2962ff" stroke-width="2.2"/>
<path d="M1747.7 429.1L3303.2 580.6M1069.5 590.5L3282.4 897.8" stroke="#363a45" stroke-width="2.2" stroke-linecap="round"/>
<path d="M25 704.9H3335" stroke="#089981" stroke-width="2" stroke-dasharray="2 4"/>
<path d="M35.8 1139.5h2V1291h-2zM46.2 1177.8h2V1220.4h-2zM56.7 1113.9h2V1190.5h-2zM77.5 1170.5h2V1209.4h-2zM88 1126.2h2V1221.1h-2zM98.4 919.9h2V1150.5h-2zM108.9 866.7h2V970.8h-2zM119.3 733h2V891h-2zM129.7 744.6h2V807.8h-2zM140.2 704.7h2V784.5h-2zM150.6 536.6h2V766.2h-2zM161 377.4h2V584.7h-2zM181.9 434.9h2V556.8h-2zM223.6 489h2V568.6h-2zM244.5 527.2h2V574.7h-2zM265.4 497.9h2V552.7h-2zM275.8 252.3h2V549.5h-2zM307.1 374.1h2V451.3h-2zM328 384.7h2V423h-2zM348.9 395.7h2V484.6h-2zM369.7 379.8h2V440.6h-2zM421.9 422.3h2V476.3h-2zM442.8 422.3h2V503.5h-2zM463.6 402.4h2V486.2h-2zM484.5 479.6h2V516.2h-2zM495 438h2V490.6h-2zM505.4 444.7h2V487h-2zM515.8 378.1h2V468h-2zM536.7 379.8h2V439.7h-2zM547.1 386.4h2V420.4h-2zM578.4 459.7h2V504.6h-2zM588.9 439h2V532.2h-2zM620.2 491.3h2V529.5h-2zM630.6 454.7h2V511.2h-2zM641 384.1h2V469.6h-2zM661.9 402.4h2V449h-2zM682.8 358.2h2V463h-2zM693.2 276h2V404.7h-2zM703.6 342.5h2V382.4h-2zM724.5 390.4h2V549.5h-2zM735 427h2V464.6h-2zM755.8 442h2V469h-2zM766.3 414.7h2V449.7h-2zM776.7 401.4h2V433h-2zM787.1 407.4h2V424.7h-2zM818.4 425.6h2V438.9h-2zM828.9 423h2V437h-2zM849.7 396.3h2V456.9h-2zM860.2 372.4h2V442.3h-2zM870.6 371.4h2V410.3h-2zM901.9 297.2h2V418h-2zM912.4 252.2h2V366.4h-2zM933.2 265.9h2V309.8h-2zM954.1 315.8h2V357.1h-2zM985.4 367.1h2V400.7h-2zM995.8 358.1h2V383h-2zM1037.6 417h2V468.9h-2zM1048 428h2V454.6h-2zM1068.9 362.1h2V444.6h-2zM1079.3 224h2V389h-2zM1121.1 503.7h2V592.9h-2zM1141.9 497h2V541.3h-2zM1152.4 445.8h2V523.7h-2zM1173.2 464.8h2V491.4h-2zM1204.5 474.1h2V498h-2zM1215 486.4h2V501.4h-2zM1235.8 476.4h2V522.3h-2zM1246.3 454.1h2V483.7h-2zM1267.1 474.1h2V485.4h-2zM1277.6 444.8h2V498h-2zM1329.8 484.7h2V536.3h-2zM1340.2 464.8h2V504.7h-2zM1350.6 365.9h2V485.7h-2zM1371.5 414.2h2V459.8h-2zM1381.9 403.2h2V445.8h-2zM1402.8 371.6h2V472.4h-2zM1423.7 403.9h2V428.2h-2zM1444.5 363h2V415.2h-2zM1455 371.3h2V398.6h-2zM1486.3 449.5h2V482.8h-2zM1507.1 447.8h2V478.5h-2zM1517.6 406.2h2V460.5h-2zM1528 296.4h2V436.2h-2zM1538.5 165h2V384.6h-2zM1580.2 273.1h2V311h-2zM1590.6 255.8h2V315.4h-2zM1611.5 471.1h2V536h-2zM1632.4 461.2h2V479.5h-2zM1663.7 463.8h2V481.8h-2zM1695 474.5h2V505.1h-2zM1705.4 467.1h2V482.8h-2zM1715.8 443.8h2V476.1h-2zM1747.2 470.1h2V495.7h-2zM1778.5 473.4h2V525.9h-2zM1799.3 477.8h2V557.7h-2zM1841.1 529.2h2V596.7h-2zM1861.9 565.4h2V593.8h-2zM1872.4 520h2V567.6h-2zM1893.2 526.6h2V557.3h-2zM1914.1 516.1h2V559.9h-2zM1935 528.1h2V557.3h-2zM1945.4 487.2h2V548.9h-2zM1955.9 452.1h2V499.7h-2zM1987.2 559.5h2V599.3h-2zM1997.6 544.1h2V587.3h-2zM2018.5 565.4h2V588.4h-2zM2028.9 553.3h2V579.6h-2zM2039.3 523.3h2V579.2h-2zM2049.8 544.1h2V568.7h-2zM2060.2 534.9h2V555.1h-2zM2070.6 537.6h2V564.6h-2zM2091.5 556h2V567.3h-2zM2122.8 557.8h2V586.2h-2zM2133.2 540.3h2V565.4h-2zM2154.1 551.1h2V562.7h-2zM2164.6 464h2V556h-2zM2195.9 563.2h2V602.3h-2zM2227.2 707.5h2V746.6h-2zM2237.6 696.7h2V716.9h-2zM2258.5 704.8h2V719.6h-2zM2279.3 668.9h2V718.8h-2zM2289.8 663h2V699.6h-2zM2300.2 687.3h2V696.7h-2zM2310.6 654.9h2V715.6h-2zM2341.9 668.4h2V700.7h-2zM2352.4 635.5h2V692.7h-2zM2373.2 647.2h2V673.5h-2zM2383.7 639.1h2V659.3h-2zM2394.1 623.2h2V654.5h-2zM2425.4 692.3h2V710.5h-2zM2435.9 677.1h2V697.7h-2zM2456.7 690h2V711.6h-2zM2467.2 628.3h2V695.4h-2zM2488 662.3h2V677.9h-2zM2498.5 659h2V674.5h-2zM2529.8 670.1h2V683.6h-2zM2540.2 667.4h2V677.9h-2zM2550.6 661.3h2V668.1h-2zM2582 673.5h2V686.9h-2zM2592.4 646.1h2V677.9h-2zM2613.3 681.5h2V726.7h-2zM2623.7 632.1h2V683.6h-2zM2644.6 654.6h2V668.7h-2zM2675.9 679.3h2V711.6h-2zM2696.7 745.4h2V774.9h-2zM2717.6 746.4h2V819.1h-2zM2728 675.2h2V766.4h-2zM2738.5 592.6h2V700.5h-2zM2801.1 695.9h2V726.4h-2zM2832.4 706.4h2V747.5h-2zM2842.8 655.8h2V726.4h-2zM2853.3 670.2h2V712.7h-2zM2884.6 694.2h2V715.9h-2zM2905.4 677.3h2V718h-2zM2926.3 720.1h2V782.7h-2zM2957.6 728.5h2V737.6h-2zM2978.5 725.4h2V742.6h-2zM2988.9 726.4h2V733.4h-2zM3009.8 724.2h2V734h-2zM3041.1 724.2h2V744.3h-2zM3051.5 706h2V734.8h-2zM3062 699.1h2V740.8h-2zM3082.8 715.8h2V739.8h-2zM3103.7 706.7h2V803.8h-2zM3114.1 687h2V718.9h-2zM3145.4 702.2h2V706.7h-2z" fill="#0f9d8c"/>
<path d="M25.4 1238h2V1282.7h-2zM67.1 1146.2h2V1201.1h-2zM171.5 498h2V576.4h-2zM192.3 467h2V531.9h-2zM202.8 489h2V566.5h-2zM213.2 467h2V625.8h-2zM234.1 484.3h2V558.7h-2zM254.9 520.1h2V550.8h-2zM286.2 249.3h2V408h-2zM296.7 341.5h2V438.7h-2zM317.6 382.4h2V421h-2zM338.4 374.8h2V468.9h-2zM359.3 411.4h2V452.3h-2zM380.2 323.2h2V397.4h-2zM390.6 383.1h2V415.7h-2zM401 389.1h2V439.6h-2zM411.5 404.7h2V464.6h-2zM432.3 426.3h2V542.8h-2zM453.2 452.3h2V510.5h-2zM474.1 449.6h2V549.5h-2zM526.3 334.2h2V456.3h-2zM557.6 392.4h2V465.6h-2zM568 439.7h2V502.9h-2zM599.3 443h2V572.8h-2zM609.7 497.9h2V550.5h-2zM651.5 368.1h2V451.3h-2zM672.3 408.1h2V484.6h-2zM714.1 303.9h2V641.7h-2zM745.4 427h2V459h-2zM797.6 411.4h2V423.7h-2zM808 405.7h2V442.3h-2zM839.3 410.3h2V501.2h-2zM881 372.4h2V406.3h-2zM891.5 392.3h2V413.6h-2zM922.8 269.2h2V346.4h-2zM943.7 289.2h2V359.1h-2zM964.5 317.1h2V356.4h-2zM975 305.8h2V407h-2zM1006.3 359.1h2V381h-2zM1016.7 374.7h2V464.6h-2zM1027.1 449.6h2V493.5h-2zM1058.4 424.6h2V469.6h-2zM1089.7 359.7h2V556.1h-2zM1100.2 444.6h2V501.2h-2zM1110.6 469.6h2V566.1h-2zM1131.5 475.7h2V549h-2zM1162.8 445.8h2V510.4h-2zM1183.7 459.1h2V481.4h-2zM1194.1 478.7h2V504.7h-2zM1225.4 470.4h2V523.7h-2zM1256.7 473.7h2V486.4h-2zM1288 463.1h2V490.4h-2zM1298.4 483.7h2V524.7h-2zM1308.9 489h2V546.3h-2zM1319.3 503h2V525.7h-2zM1361.1 325h2V495.7h-2zM1392.4 422.5h2V463.1h-2zM1413.2 395.9h2V448.1h-2zM1434.1 399.6h2V429.5h-2zM1465.4 338h2V437.2h-2zM1475.8 425.2h2V488.4h-2zM1496.7 446.2h2V475.1h-2zM1548.9 187.3h2V323h-2zM1559.3 202.3h2V259.8h-2zM1569.8 234.9h2V313.1h-2zM1601.1 273.1h2V552h-2zM1621.9 456.2h2V483.8h-2zM1642.8 459.5h2V475.1h-2zM1653.2 462.8h2V482.8h-2zM1674.1 470.5h2V478.5h-2zM1684.5 469.5h2V520.4h-2zM1726.3 454.5h2V491.1h-2zM1736.7 462.8h2V505.1h-2zM1757.6 470.1h2V485.4h-2zM1768 471.2h2V539.5h-2zM1788.9 487.2h2V602.6h-2zM1809.8 487.2h2V517.6h-2zM1820.2 509.5h2V547.8h-2zM1830.6 512.8h2V571.9h-2zM1851.5 542.8h2V634.4h-2zM1882.8 496.8h2V537.6h-2zM1903.7 505.1h2V581.8h-2zM1924.5 524.8h2V568.7h-2zM1966.3 471.2h2V609.8h-2zM1976.7 559.5h2V630.4h-2zM2008 554.4h2V582.2h-2zM2081.1 540.3h2V559.2h-2zM2101.9 555.1h2V574.6h-2zM2112.4 565.4h2V609.6h-2zM2143.7 544.4h2V557.3h-2zM2175 506.1h2V550.3h-2zM2185.4 516.1h2V599.6h-2zM2206.3 570.8h2V745.2h-2zM2216.7 681.9h2V761.4h-2zM2248 701.3h2V725h-2zM2268.9 680.5h2V712.9h-2zM2321.1 673.8h2V695.4h-2zM2331.5 688.6h2V702.1h-2zM2362.8 599.6h2V679.2h-2zM2404.6 634.4h2V686.7h-2zM2415 671.2h2V720.6h-2zM2446.3 686h2V709.6h-2zM2477.6 655.9h2V696.8h-2zM2508.9 655h2V677.5h-2zM2519.3 671.4h2V682.5h-2zM2561.1 664.4h2V673.5h-2zM2571.5 670.4h2V680.9h-2zM2602.8 656.3h2V710.8h-2zM2634.1 649.2h2V661.7h-2zM2655 642.1h2V689.6h-2zM2665.4 683.3h2V715.6h-2zM2686.3 669.5h2V788.6h-2zM2707.2 739.7h2V766.4h-2zM2748.9 526.6h2V612.7h-2zM2759.3 595.8h2V623.2h-2zM2769.8 623.2h2V660h-2zM2780.2 621.1h2V704.7h-2zM2790.7 669.5h2V754.4h-2zM2811.5 687.4h2V712.7h-2zM2822 705.3h2V736.9h-2zM2863.7 671h2V709.6h-2zM2874.1 693.8h2V720.7h-2zM2895 693.8h2V714.8h-2zM2915.9 685.3h2V752.7h-2zM2936.7 715.2h2V730.6h-2zM2947.2 725.4h2V736.3h-2zM2968 728.5h2V747.5h-2zM2999.4 730.2h2V736.3h-2zM3020.2 718.9h2V735.8h-2zM3030.7 730.2h2V744.6h-2zM3072.4 707.5h2V736.8h-2zM3093.3 717.3h2V787.4h-2zM3124.6 691.3h2V712.8h-2zM3135 677.2h2V704.5h-2z" fill="#f0494e"/>
<path d="M32 1217.5h9.6v47.8h-9.6zM42.4 1184.5h9.6v32.2h-9.6zM52.9 1172.8h9.6v11.7h-9.6zM73.8 1172.8h9.6v13.3h-9.6zM84.2 1136.2h9.6v34.3h-9.6zM94.6 952.2h9.6v184h-9.6zM105.1 885h9.6v64.9h-9.6zM115.5 802.8h9.6v81.6h-9.6zM125.9 771.2h9.6v30h-9.6zM136.4 753.6h9.6v15.9h-9.6zM146.8 571.5h9.6v183.1h-9.6zM157.2 512.4h9.6v57.7h-9.6zM178.1 478.5h9.6v59.6h-9.6zM219.8 493.6h9.6v71.1h-9.6zM240.7 534.6h9.6v25.6h-9.6zM261.6 505.5h9.6v41.2h-9.6zM272 282.6h9.6v222.9h-9.6zM303.3 386.4h9.6v9.3h-9.6zM324.2 399h9.6v22.3h-9.6zM345.1 411.4h9.6v43.9h-9.6zM365.9 386.4h9.6v42.3h-9.6zM418.1 443h9.6v6h-9.6zM439 457.3h9.6v19.6h-9.6zM459.8 452.3h9.6v19h-9.6zM480.7 483.9h9.6v4h-9.6zM491.2 462.3h9.6v22.3h-9.6zM501.6 456.3h9.6v6.7h-9.6zM512 388.1h9.6v65.6h-9.6zM532.9 398.8h9.6v34.9h-9.6zM543.3 395.8h9.6v3h-9.6zM574.6 472.3h9.6v26.6h-9.6zM585.1 452.3h9.6v20h-9.6zM616.4 506.9h9.6v15.3h-9.6zM626.8 468h9.6v37.6h-9.6zM637.2 401.4h9.6v67.2h-9.6zM658.1 416.4h9.6v22.3h-9.6zM679 387.1h9.6v58.2h-9.6zM689.4 375.8h9.6v9h-9.6zM699.9 344.8h9.6v31.7h-9.6zM720.7 458h9.6v64.2h-9.6zM731.2 440.7h9.6v17.3h-9.6zM752 444.7h9.6v10.6h-9.6zM762.5 430.7h9.6v13.3h-9.6zM772.9 420.7h9.6v10h-9.6zM783.3 412.4h9.6v8h-9.6zM814.6 432.5h9.6v2h-9.6zM825.1 426.3h9.6v6.7h-9.6zM845.9 421.3h9.6v11.7h-9.6zM856.4 409.7h9.6v11.6h-9.6zM866.8 378.7h9.6v30.3h-9.6zM898.1 320.5h9.6v88.5h-9.6zM908.6 279.9h9.6v38.2h-9.6zM929.4 294.8h9.6v5h-9.6zM950.3 317.1h9.6v34.3h-9.6zM981.6 382.4h9.6v16.3h-9.6zM992 360.7h9.6v21.3h-9.6zM1033.8 447.9h9.6v17.3h-9.6zM1044.2 434.6h9.6v14h-9.6zM1065.1 371.4h9.6v64.2h-9.6zM1075.5 364.7h9.6v7.3h-9.6zM1117.3 508h9.6v48.3h-9.6zM1138.1 513.7h9.6v22.6h-9.6zM1148.6 457.4h9.6v54.9h-9.6zM1169.4 466.4h9.6v20h-9.6zM1200.7 494.7h9.6v2h-9.6zM1211.2 492.7h9.6v2h-9.6zM1232 478h9.6v34.3h-9.6zM1242.5 475.4h9.6v2h-9.6zM1263.3 481h9.6v2h-9.6zM1273.8 464.8h9.6v16.6h-9.6zM1326 487h9.6v27.7h-9.6zM1336.4 472.4h9.6v14.6h-9.6zM1346.8 367.3h9.6v105.1h-9.6zM1367.7 438.1h9.6v12.7h-9.6zM1378.1 427.2h9.6v10.9h-9.6zM1399 415.5h9.6v36.9h-9.6zM1419.9 408.2h9.6v7.3h-9.6zM1440.7 384h9.6v29.9h-9.6zM1451.2 378.6h9.6v4.4h-9.6zM1482.5 454.5h9.6v20h-9.6zM1503.3 459.5h9.6v12.3h-9.6zM1513.8 420.6h9.6v38.9h-9.6zM1524.2 346.3h9.6v74.3h-9.6zM1534.7 202.6h9.6v143.7h-9.6zM1576.4 285.8h9.6v24.9h-9.6zM1586.8 279.8h9.6v5.7h-9.6zM1607.7 472.8h9.6v39.9h-9.6zM1628.6 466.2h9.6v7.6h-9.6zM1659.9 470.1h9.6v2h-9.6zM1691.2 481.8h9.6v15.3h-9.6zM1701.6 469.5h9.6v10h-9.6zM1712 457.8h9.6v11.7h-9.6zM1743.4 473.4h9.6v14.6h-9.6zM1774.7 497.1h9.6v2h-9.6zM1795.5 507.3h9.6v50.4h-9.6zM1837.3 553.3h9.6v6.2h-9.6zM1858.1 565.4h9.6v28.4h-9.6zM1868.6 520.5h9.6v47.1h-9.6zM1889.4 531.5h9.6v2h-9.6zM1910.3 527h9.6v18h-9.6zM1931.2 548.5h9.6v6.6h-9.6zM1941.6 494.2h9.6v53h-9.6zM1952.1 475.6h9.6v18.1h-9.6zM1983.4 575.7h9.6v10h-9.6zM1993.8 551.1h9.6v23h-9.6zM2014.7 580.4h9.6v2h-9.6zM2025.1 563.8h9.6v15.8h-9.6zM2035.5 558.1h9.6v5.1h-9.6zM2046 554.4h9.6v5.1h-9.6zM2056.4 552.8h9.6v2h-9.6zM2066.8 547.6h9.6v6.2h-9.6zM2087.7 556h9.6v2h-9.6zM2119 565.9h9.6v12.2h-9.6zM2129.4 554.6h9.6v10.8h-9.6zM2150.3 554.7h9.6v2h-9.6zM2160.8 515.2h9.6v40.8h-9.6zM2192.1 570.8h9.6v21.6h-9.6zM2223.4 715h9.6v3.8h-9.6zM2233.8 700.7h9.6v13.5h-9.6zM2254.7 708.3h9.6v5.9h-9.6zM2275.5 700.7h9.6v11.4h-9.6zM2286 697.6h9.6v2h-9.6zM2296.4 691.3h9.6v5.4h-9.6zM2306.8 687.6h9.6v2h-9.6zM2338.1 672.4h9.6v28.3h-9.6zM2348.6 656.3h9.6v16.1h-9.6zM2369.4 654.6h9.6v11.4h-9.6zM2379.9 653.3h9.6v2h-9.6zM2390.3 633.4h9.6v20.5h-9.6zM2421.6 693.3h9.6v11.8h-9.6zM2432.1 687.6h9.6v5.1h-9.6zM2452.9 695.4h9.6v13.8h-9.6zM2463.4 659.3h9.6v36.1h-9.6zM2484.2 671.1h9.6v2h-9.6zM2494.7 660.7h9.6v11.8h-9.6zM2526 678.9h9.6v3.3h-9.6zM2536.4 668.7h9.6v9.2h-9.6zM2546.8 664.7h9.6v3.4h-9.6zM2578.2 674.4h9.6v3.8h-9.6zM2588.6 666.5h9.6v7.4h-9.6zM2609.5 682.5h9.6v14.3h-9.6zM2619.9 653.6h9.6v28.6h-9.6zM2640.8 656.6h9.6v3.8h-9.6zM2672.1 690.6h9.6v14.5h-9.6zM2692.9 751.7h9.6v18.9h-9.6zM2713.8 751.7h9.6v14.1h-9.6zM2724.2 683.6h9.6v66h-9.6zM2734.7 596.9h9.6v85.9h-9.6zM2797.3 706.4h9.6v4.2h-9.6zM2828.6 715.9h9.6v17.5h-9.6zM2839 691.6h9.6v23.2h-9.6zM2849.5 687h9.6v4.2h-9.6zM2880.8 703.9h9.6v9.2h-9.6zM2901.6 687.4h9.6v22.8h-9.6zM2922.5 722.8h9.6v14.1h-9.6zM2953.8 735.3h9.6v2h-9.6zM2974.7 731.7h9.6v5.9h-9.6zM2985.1 730.3h9.6v2h-9.6zM3006 726.7h9.6v7.3h-9.6zM3037.3 728.7h9.6v15.6h-9.6zM3047.7 726.5h9.6v2h-9.6zM3058.2 713.6h9.6v13.6h-9.6zM3079 727.3h9.6v2h-9.6zM3099.9 717h9.6v56.5h-9.6zM3110.3 700.7h9.6v13.6h-9.6zM3141.6 704.5h9.6v2h-9.6z" fill="#9a97a6"/>
<path d="M33.6 1219.1h6.4v44.6h-6.4zM44 1186.1h6.4v29h-6.4zM54.5 1174.4h6.4v8.5h-6.4zM75.3 1174.4h6.4v10.1h-6.4zM85.8 1137.8h6.4v31.1h-6.4zM96.2 953.8h6.4v180.8h-6.4zM106.7 886.6h6.4v61.7h-6.4zM117.1 804.4h6.4v78.4h-6.4zM127.5 772.8h6.4v26.8h-6.4zM138 755.2h6.4v12.7h-6.4zM148.4 573.1h6.4v179.9h-6.4zM158.8 514h6.4v54.5h-6.4zM179.7 480.1h6.4v56.4h-6.4zM221.4 495.2h6.4v67.9h-6.4zM242.3 536.2h6.4v22.4h-6.4zM263.2 507.1h6.4v38h-6.4zM273.6 284.2h6.4v219.7h-6.4zM304.9 388h6.4v6.1h-6.4zM325.8 400.6h6.4v19.1h-6.4zM346.7 413h6.4v40.7h-6.4zM367.5 388h6.4v39.1h-6.4zM419.7 444.6h6.4v2.8h-6.4zM440.6 458.9h6.4v16.4h-6.4zM461.4 453.9h6.4v15.8h-6.4zM482.3 485.5h6.4v0.8h-6.4zM492.8 463.9h6.4v19.1h-6.4zM503.2 457.9h6.4v3.5h-6.4zM513.6 389.7h6.4v62.4h-6.4zM534.5 400.4h6.4v31.7h-6.4zM576.2 473.9h6.4v23.4h-6.4zM586.7 453.9h6.4v16.8h-6.4zM618 508.5h6.4v12.1h-6.4zM628.4 469.6h6.4v34.4h-6.4zM638.8 403h6.4v64h-6.4zM659.7 418h6.4v19.1h-6.4zM680.6 388.7h6.4v55h-6.4zM691 377.4h6.4v5.8h-6.4zM701.4 346.4h6.4v28.5h-6.4zM722.3 459.6h6.4v61h-6.4zM732.8 442.3h6.4v14.1h-6.4zM753.6 446.3h6.4v7.4h-6.4zM764.1 432.3h6.4v10.1h-6.4zM774.5 422.3h6.4v6.8h-6.4zM784.9 414h6.4v4.8h-6.4zM826.7 427.9h6.4v3.5h-6.4zM847.5 422.9h6.4v8.5h-6.4zM858 411.3h6.4v8.4h-6.4zM868.4 380.3h6.4v27.1h-6.4zM899.7 322.1h6.4v85.3h-6.4zM910.1 281.5h6.4v35h-6.4zM931 296.4h6.4v1.8h-6.4zM951.9 318.7h6.4v31.1h-6.4zM983.2 384h6.4v13.1h-6.4zM993.6 362.3h6.4v18.1h-6.4zM1035.4 449.5h6.4v14.1h-6.4zM1045.8 436.2h6.4v10.8h-6.4zM1066.7 373h6.4v61h-6.4zM1077.1 366.3h6.4v4.1h-6.4zM1118.9 509.6h6.4v45.1h-6.4zM1139.7 515.3h6.4v19.4h-6.4zM1150.2 459h6.4v51.7h-6.4zM1171 468h6.4v16.8h-6.4zM1233.6 479.6h6.4v31.1h-6.4zM1275.4 466.4h6.4v13.4h-6.4zM1327.6 488.6h6.4v24.5h-6.4zM1338 474h6.4v11.4h-6.4zM1348.4 368.9h6.4v101.9h-6.4zM1369.3 439.7h6.4v9.5h-6.4zM1379.7 428.8h6.4v7.7h-6.4zM1400.6 417.1h6.4v33.7h-6.4zM1421.5 409.8h6.4v4.1h-6.4zM1442.3 385.6h6.4v26.7h-6.4zM1452.8 380.2h6.4v1.2h-6.4zM1484.1 456.1h6.4v16.8h-6.4zM1504.9 461.1h6.4v9.1h-6.4zM1515.4 422.2h6.4v35.7h-6.4zM1525.8 347.9h6.4v71.1h-6.4zM1536.2 204.2h6.4v140.5h-6.4zM1578 287.4h6.4v21.7h-6.4zM1588.4 281.4h6.4v2.5h-6.4zM1609.3 474.4h6.4v36.7h-6.4zM1630.2 467.8h6.4v4.4h-6.4zM1692.8 483.4h6.4v12.1h-6.4zM1703.2 471.1h6.4v6.8h-6.4zM1713.6 459.4h6.4v8.5h-6.4zM1745 475h6.4v11.4h-6.4zM1797.1 508.9h6.4v47.2h-6.4zM1838.9 554.9h6.4v3h-6.4zM1859.7 567h6.4v25.2h-6.4zM1870.2 522.1h6.4v43.9h-6.4zM1911.9 528.6h6.4v14.8h-6.4zM1932.8 550.1h6.4v3.4h-6.4zM1943.2 495.8h6.4v49.8h-6.4zM1953.7 477.2h6.4v14.9h-6.4zM1985 577.3h6.4v6.8h-6.4zM1995.4 552.7h6.4v19.8h-6.4zM2026.7 565.4h6.4v12.6h-6.4zM2037.1 559.7h6.4v1.9h-6.4zM2047.6 556h6.4v1.9h-6.4zM2068.4 549.2h6.4v3h-6.4zM2120.6 567.5h6.4v9h-6.4zM2131 556.2h6.4v7.6h-6.4zM2162.4 516.8h6.4v37.6h-6.4zM2193.7 572.4h6.4v18.4h-6.4zM2225 716.6h6.4v0.6h-6.4zM2235.4 702.3h6.4v10.3h-6.4zM2256.3 709.9h6.4v2.7h-6.4zM2277.1 702.3h6.4v8.2h-6.4zM2298 692.9h6.4v2.2h-6.4zM2339.7 674h6.4v25.1h-6.4zM2350.2 657.9h6.4v12.9h-6.4zM2371.1 656.2h6.4v8.2h-6.4zM2391.9 635h6.4v17.3h-6.4zM2423.2 694.9h6.4v8.6h-6.4zM2433.7 689.2h6.4v1.9h-6.4zM2454.5 697h6.4v10.6h-6.4zM2465 660.9h6.4v32.9h-6.4zM2496.3 662.3h6.4v8.6h-6.4zM2527.6 680.5h6.4v0.1h-6.4zM2538 670.3h6.4v6h-6.4zM2548.4 666.3h6.4v0.2h-6.4zM2579.8 676h6.4v0.6h-6.4zM2590.2 668.1h6.4v4.2h-6.4zM2611.1 684.1h6.4v11.1h-6.4zM2621.5 655.2h6.4v25.4h-6.4zM2642.4 658.2h6.4v0.6h-6.4zM2673.7 692.2h6.4v11.3h-6.4zM2694.5 753.3h6.4v15.7h-6.4zM2715.4 753.3h6.4v10.9h-6.4zM2725.8 685.2h6.4v62.8h-6.4zM2736.3 598.5h6.4v82.7h-6.4zM2798.9 708h6.4v1h-6.4zM2830.2 717.5h6.4v14.3h-6.4zM2840.6 693.2h6.4v20h-6.4zM2851.1 688.6h6.4v1h-6.4zM2882.4 705.5h6.4v6h-6.4zM2903.2 689h6.4v19.6h-6.4zM2924.1 724.4h6.4v10.9h-6.4zM2976.3 733.3h6.4v2.7h-6.4zM3007.6 728.3h6.4v4.1h-6.4zM3038.9 730.3h6.4v12.4h-6.4zM3059.8 715.2h6.4v10.4h-6.4zM3101.5 718.6h6.4v53.3h-6.4zM3111.9 702.3h6.4v10.4h-6.4z" fill="#26a69a"/>
<path d="M21.6 1263h9.6v2.5h-9.6zM63.3 1172.8h9.6v13.3h-9.6zM167.7 513.2h9.6v26.5h-9.6zM188.5 477h9.6v40.2h-9.6zM199 517.1h9.6v32.4h-9.6zM209.4 550.1h9.6v17.6h-9.6zM230.3 492.1h9.6v66.6h-9.6zM251.1 533.9h9.6v14.8h-9.6zM282.4 282.2h9.6v73.3h-9.6zM292.9 355.5h9.6v40.9h-9.6zM313.8 387.1h9.6v33.6h-9.6zM334.6 398h9.6v56h-9.6zM355.5 411.4h9.6v17.3h-9.6zM376.4 386.4h9.6v2.7h-9.6zM386.8 389.1h9.6v2.3h-9.6zM397.2 391.4h9.6v27.3h-9.6zM407.7 418.7h9.6v31.6h-9.6zM428.5 442h9.6v35.3h-9.6zM449.4 456.3h9.6v16h-9.6zM470.3 452.3h9.6v35.6h-9.6zM522.5 388.1h9.6v45.9h-9.6zM553.8 395.8h9.6v48.9h-9.6zM564.2 444h9.6v55.6h-9.6zM595.5 452.3h9.6v67.9h-9.6zM605.9 520.2h9.6v2.7h-9.6zM647.7 402.1h9.6v37.6h-9.6zM668.5 418h9.6v27.3h-9.6zM710.3 347.2h9.6v179h-9.6zM741.6 440.3h9.6v15.4h-9.6zM793.8 411.4h9.6v6.6h-9.6zM804.2 418h9.6v23.3h-9.6zM835.5 425.6h9.6v10.7h-9.6zM877.2 378.7h9.6v20h-9.6zM887.7 398.7h9.6v10.3h-9.6zM919 279.9h9.6v21.6h-9.6zM939.9 293.2h9.6v58.2h-9.6zM960.7 317.1h9.6v25.3h-9.6zM971.2 342.4h9.6v54.9h-9.6zM1002.5 360.4h9.6v19.3h-9.6zM1012.9 378.7h9.6v76.9h-9.6zM1023.3 455.6h9.6v10h-9.6zM1054.6 434.6h9.6v2h-9.6zM1085.9 365.4h9.6v86.8h-9.6zM1096.4 452.9h9.6v21.6h-9.6zM1106.8 474.5h9.6v81.6h-9.6zM1127.7 508h9.6v28.3h-9.6zM1159 457.4h9.6v30.6h-9.6zM1179.9 466.4h9.6v12.3h-9.6zM1190.3 478.7h9.6v18.3h-9.6zM1221.6 493h9.6v20h-9.6zM1252.9 476.4h9.6v6h-9.6zM1284.2 464.1h9.6v22.3h-9.6zM1294.6 485.7h9.6v18h-9.6zM1305.1 502.7h9.6v2h-9.6zM1315.5 504h9.6v11.7h-9.6zM1357.3 365.9h9.6v85.5h-9.6zM1388.6 426.5h9.6v25.9h-9.6zM1409.4 414.5h9.6v2h-9.6zM1430.3 408.6h9.6v5.3h-9.6zM1461.6 376.3h9.6v52.2h-9.6zM1472 428.5h9.6v46h-9.6zM1492.9 456.2h9.6v16.6h-9.6zM1545.1 202.6h9.6v32.9h-9.6zM1555.5 234.5h9.6v2h-9.6zM1566 237.2h9.6v74.2h-9.6zM1597.3 279.1h9.6v234.6h-9.6zM1618.1 471.8h9.6v2h-9.6zM1639 464.5h9.6v6.6h-9.6zM1649.4 470.8h9.6v2h-9.6zM1670.3 470.5h9.6v8h-9.6zM1680.7 477.1h9.6v20h-9.6zM1722.5 456.2h9.6v27.6h-9.6zM1732.9 483.8h9.6v4.6h-9.6zM1753.8 473.4h9.6v6.6h-9.6zM1764.2 480h9.6v19.7h-9.6zM1785.1 497h9.6v60.3h-9.6zM1806 506.2h9.6v11.4h-9.6zM1816.4 517.8h9.6v23.9h-9.6zM1826.8 540.8h9.6v17.3h-9.6zM1847.7 551.8h9.6v42.7h-9.6zM1879 522h9.6v13.4h-9.6zM1899.9 532.5h9.6v13.8h-9.6zM1920.7 526.6h9.6v27.8h-9.6zM1962.5 475.1h9.6v99h-9.6zM1972.9 573h9.6v13.2h-9.6zM2004.2 554.4h9.6v27.8h-9.6zM2077.3 545.7h9.6v12.1h-9.6zM2098.1 555.1h9.6v10.8h-9.6zM2108.6 565.4h9.6v13.5h-9.6zM2139.9 553h9.6v4.3h-9.6zM2171.2 514.2h9.6v2h-9.6zM2181.6 517.4h9.6v75.5h-9.6zM2202.5 570.8h9.6v111.1h-9.6zM2212.9 681.9h9.6v37.7h-9.6zM2244.2 701.3h9.6v12.4h-9.6zM2265.1 707.5h9.6v5.4h-9.6zM2317.3 687.3h9.6v8.1h-9.6zM2327.7 695.4h9.6v6.7h-9.6zM2359 656.3h9.6v9.4h-9.6zM2400.8 634.4h9.6v42.2h-9.6zM2411.2 677.1h9.6v28h-9.6zM2442.5 686.9h9.6v22.7h-9.6zM2473.8 659.3h9.6v14.2h-9.6zM2505.1 660.3h9.6v17.2h-9.6zM2515.5 677.5h9.6v5h-9.6zM2557.3 664.4h9.6v9.1h-9.6zM2567.7 672.8h9.6v5.6h-9.6zM2599 666h9.6v31.3h-9.6zM2630.3 653.2h9.6v6.1h-9.6zM2651.2 655.9h9.6v29.7h-9.6zM2661.6 687.9h9.6v17.5h-9.6zM2682.5 690h9.6v83.4h-9.6zM2703.4 751.7h9.6v14.7h-9.6zM2745.1 596.4h9.6v15.2h-9.6zM2755.5 612h9.6v11.2h-9.6zM2766 623.2h9.6v4.2h-9.6zM2776.4 628h9.6v49.3h-9.6zM2786.8 675.8h9.6v34.8h-9.6zM2807.7 703.7h9.6v2h-9.6zM2818.2 705.3h9.6v30.2h-9.6zM2859.9 686.4h9.6v18.3h-9.6zM2870.3 704.7h9.6v9.1h-9.6zM2891.2 702.6h9.6v8h-9.6zM2912.1 687h9.6v52.7h-9.6zM2932.9 722.8h9.6v3.6h-9.6zM2943.4 727h9.6v9.3h-9.6zM2964.2 735.9h9.6v2h-9.6zM2995.6 731h9.6v2.7h-9.6zM3016.4 727.2h9.6v3.5h-9.6zM3026.9 730.2h9.6v14.4h-9.6zM3068.6 713.6h9.6v15.1h-9.6zM3089.5 728h9.6v45.8h-9.6zM3120.8 700h9.6v2h-9.6zM3131.2 702.4h9.6v2h-9.6z" fill="#ef5350"/>
</g>
<g clip-path="url(#cr)">
<polyline points="26.4,1427.3 36.8,1409.4 47.2,1400 57.7,1397 68.1,1404.5 78.5,1400.7 89,1390.8 99.4,1359.8 109.9,1352.3 120.3,1346.8 130.7,1344.8 141.2,1343.9 151.6,1334.4 162,1331.9 172.5,1341.9 182.9,1338.9 193.3,1353.5 203.8,1361.7 214.2,1369.7 224.6,1362.7 235.1,1384.6 245.5,1381.6 255.9,1386.1 266.4,1380.9 276.8,1361.7 287.2,1379.6 297.7,1390.8 308.1,1390.1 318.6,1399 329,1395.8 339.4,1410.7 349.9,1404.5 360.3,1408.7 370.7,1402 381.2,1402.7 391.6,1403.7 402,1411.9 412.5,1421.4 422.9,1420.6 433.3,1431.3 443.8,1426.3 454.2,1430.6 464.6,1426.1 475.1,1438 485.5,1436.3 496,1430.6 506.4,1428.6 516.8,1410.7 527.3,1427.3 537.7,1418.1 548.1,1418.1 558.6,1433 569,1451.7 579.4,1444.2 589.9,1438 600.3,1457.1 610.7,1458.6 621.2,1452.9 631.6,1440.5 642,1422.4 652.5,1433 662.9,1428.1 673.3,1436.8 683.8,1422.4 694.2,1419.4 704.6,1412.4 715.1,1462.1 725.5,1445.5 736,1441.2 746.4,1445.5 756.8,1442.2 767.3,1438 777.7,1435.5 788.1,1433.8 798.6,1434.8 809,1441.2 819.4,1441 829.9,1438.8 840.3,1443 850.7,1436.8 861.2,1433 871.6,1421.4 882,1430.6 892.5,1434.8 902.9,1407 913.4,1397 923.8,1407 934.2,1405.2 944.7,1429.3 955.1,1419.9 965.5,1429.3 976,1448.7 986.4,1443.5 996.8,1436.8 1007.3,1443 1017.7,1466.6 1028.1,1469.6 1038.6,1462.9 1049,1457.1 1059.4,1457.9 1069.9,1434.3 1080.3,1432.3 1090.7,1461.1 1101.2,1467.1 1111.6,1486 1122.1,1468.6 1132.5,1475.3 1142.9,1467.1 1153.4,1449.7 1163.8,1457.9 1174.2,1451.2 1184.7,1455.4 1195.1,1460.4 1205.5,1459.1 1216,1457.9 1226.4,1465.3 1236.8,1450.4 1247.3,1449.7 1257.7,1452.2 1268.1,1451.2 1278.6,1445.5 1289,1452.9 1299.4,1461.1 1309.9,1461.1 1320.3,1465.3 1330.8,1450.4 1341.2,1443 1351.6,1405 1362.1,1439.3 1372.5,1434.8 1382.9,1431.8 1393.4,1441 1403.8,1429.3 1414.2,1429.3 1424.7,1426.8 1435.1,1428.8 1445.5,1418.1 1456,1416.9 1466.4,1436.8 1476.8,1457.9 1487.3,1449.2 1497.7,1456.1 1508.1,1449.7 1518.6,1435.5 1529,1413.2 1539.5,1383.4 1549.9,1395.8 1560.3,1397 1570.8,1422.4 1581.2,1416.9 1591.6,1415.7 1602.1,1472.8 1612.5,1462.1 1622.9,1462.9 1633.4,1460.4 1643.8,1461.6 1654.2,1462.1 1664.7,1461.1 1675.1,1463.6 1685.5,1468.6 1696,1462.1 1706.4,1458.6 1716.8,1452.9 1727.3,1461.6 1737.7,1463.6 1748.2,1456.6 1758.6,1458.6 1769,1466.1 1779.5,1465.3 1789.9,1485.2 1800.3,1461.1 1810.8,1465.3 1821.2,1471.6 1831.6,1477.8 1842.1,1475.3 1852.5,1487.7 1862.9,1472.8 1873.4,1453.7 1883.8,1458.6 1894.2,1456.1 1904.7,1462.1 1915.1,1452.9 1925.5,1463.6 1936,1460.4 1946.4,1436.8 1956.9,1429.3 1967.3,1465.3 1977.7,1469.1 1988.2,1464.1 1998.6,1454.7 2009,1464.8 2019.5,1463.6 2029.9,1456.1 2040.3,1454.2 2050.8,1451.7 2061.2,1451.7 2071.6,1448.7 2082.1,1453.7 2092.5,1452.2 2102.9,1457.9 2113.4,1464.1 2123.8,1456.6 2134.2,1448.7 2144.7,1449.7 2155.1,1449.2 2165.6,1423.9 2176,1425.6 2186.4,1468.6 2196.9,1455.4 2207.3,1492.7 2217.7,1501.9 2228.2,1498.9 2238.6,1491.4 2249,1495.2 2259.5,1490.9 2269.9,1492.7 2280.3,1484.5 2290.8,1482 2301.2,1478.5 2311.6,1475.3 2322.1,1479 2332.5,1482 2342.9,1461.1 2353.4,1450.4 2363.8,1456.6 2374.2,1448.7 2384.7,1448.7 2395.1,1434.8 2405.6,1460.4 2416,1474 2426.4,1467.1 2436.9,1462.1 2447.3,1472.8 2457.7,1462.1 2468.2,1441.7 2478.6,1448.7 2489,1448.7 2499.5,1441.7 2509.9,1451.2 2520.3,1453.7 2530.8,1451.7 2541.2,1445.5 2551.6,1441.7 2562.1,1448.7 2572.5,1452.2 2583,1448.7 2593.4,1442.2 2603.8,1465.3 2614.3,1451.7 2624.7,1432.3 2635.1,1436.8 2645.6,1434.8 2656,1456.1 2666.4,1467.8 2676.9,1456.1 2687.3,1493.9 2697.7,1479 2708.2,1484.5 2718.6,1474.5 2729,1441.7 2739.5,1409.9 2749.9,1416.4 2760.3,1421.9 2770.8,1424.3 2781.2,1444.2 2791.7,1457.1 2802.1,1455.4 2812.5,1455.4 2823,1466.6 2833.4,1457.9 2843.8,1448.7 2854.3,1443 2864.7,1451.7 2875.1,1456.1 2885.6,1450.4 2896,1454.7 2906.4,1441.7 2916.9,1465.3 2927.3,1456.1 2937.7,1457.9 2948.2,1462.4 2958.6,1462.4 2969,1462.9 2979.5,1459.6 2989.9,1459.1 3000.4,1460.4 3010.8,1455.4 3021.2,1457.1 3031.7,1466.1 3042.1,1453.7 3052.5,1452.2 3063,1440.5 3073.4,1452.9 3083.8,1452.9 3094.3,1481.5 3104.7,1441.2 3115.1,1433 3125.6,1433.8 3136,1435 3146.4,1435.5 3149,1435.5" fill="none" stroke="#7e57c2" stroke-width="2.2" stroke-linejoin="round"/>
<polyline points="26.4,1415.7 57.3,1413.9 89.6,1412.4 119.4,1400.7 139.3,1389.6 162,1374.5 172.5,1368.4 182.9,1363.4 193.3,1360.1 203.8,1357.6 214.2,1355.1 224.6,1352.4 235.1,1351.9 245.5,1353.5 255.9,1355.9 266.4,1358.3 276.8,1359.5 287.2,1362.1 297.7,1366.1 308.1,1370.3 318.6,1374.3 329,1378.4 339.4,1382.5 349.9,1385.6 360.3,1388.3 370.7,1391.2 381.2,1392.4 391.6,1394 402,1395.9 412.5,1398.8 422.9,1403 433.3,1406.7 443.8,1409.2 454.2,1412.1 464.6,1414 475.1,1417 485.5,1418.9 496,1420.7 506.4,1422.2 516.8,1422.8 527.3,1424.5 537.7,1425.6 548.1,1426 558.6,1426.8 569,1429 579.4,1430 589.9,1430.8 600.3,1432.7 610.7,1435 621.2,1436.1 631.6,1436.4 642,1435.8 652.5,1436.1 662.9,1437.4 673.3,1438 683.8,1438.3 694.2,1438.4 704.6,1437 715.1,1437.7 725.5,1437.8 736,1438 746.4,1437.2 756.8,1436 767.3,1435 777.7,1434.6 788.1,1435.4 798.6,1435.5 809,1436.5 819.4,1436.8 829.9,1438 840.3,1439.6 850.7,1441.4 861.2,1439.3 871.6,1437.6 882,1436.8 892.5,1436.1 902.9,1433.5 913.4,1430.6 923.8,1428.6 934.2,1426.5 944.7,1426.2 955.1,1424.6 965.5,1423.8 976,1424.5 986.4,1424.5 996.8,1424.5 1007.3,1425.3 1017.7,1428.5 1028.1,1431.3 1038.6,1433.3 1049,1436.8 1059.4,1441.2 1069.9,1443.2 1080.3,1445.1 1090.7,1447.4 1101.2,1450.7 1111.6,1454.8 1122.1,1456.2 1132.5,1458.5 1142.9,1460.6 1153.4,1461.1 1163.8,1460.5 1174.2,1459.2 1184.7,1458.6 1195.1,1458.9 1205.5,1459 1216,1460.6 1226.4,1463 1236.8,1462.2 1247.3,1461 1257.7,1458.6 1268.1,1457.3 1278.6,1455.2 1289,1454.2 1299.4,1455 1309.9,1455.2 1320.3,1456.2 1330.8,1455.9 1341.2,1454.6 1351.6,1450.8 1362.1,1449.5 1372.5,1447.3 1382.9,1446 1393.4,1445.3 1403.8,1443.7 1414.2,1442.1 1424.7,1440.8 1435.1,1439.1 1445.5,1436 1456,1432.8 1466.4,1430.8 1476.8,1431.3 1487.3,1431.8 1497.7,1435.4 1508.1,1436.2 1518.6,1436.2 1529,1434.9 1539.5,1430.8 1549.9,1428.4 1560.3,1426.1 1570.8,1425.8 1581.2,1424.9 1591.6,1424.8 1602.1,1428.7 1612.5,1430.6 1622.9,1430.9 1633.4,1431.7 1643.8,1432.1 1654.2,1433 1664.7,1434.8 1675.1,1438.4 1685.5,1444.5 1696,1449.2 1706.4,1453.6 1716.8,1455.8 1727.3,1459 1737.7,1462.4 1748.2,1461.3 1758.6,1461 1769,1461.3 1779.5,1461.6 1789.9,1463.3 1800.3,1463.2 1810.8,1463.5 1821.2,1464.1 1831.6,1464.7 1842.1,1465.7 1852.5,1467.8 1862.9,1469.2 1873.4,1468.6 1883.8,1468.3 1894.2,1468.2 1904.7,1468.5 1915.1,1467.5 1925.5,1467.4 1936,1465.6 1946.4,1463.9 1956.9,1461.3 1967.3,1460.9 1977.7,1460.3 1988.2,1459.5 1998.6,1457.1 2009,1456.5 2019.5,1457.2 2029.9,1457.1 2040.3,1456.9 2050.8,1456.2 2061.2,1456.1 2071.6,1455 2082.1,1454.6 2092.5,1455.7 2102.9,1457.7 2113.4,1457.6 2123.8,1456.7 2134.2,1455.6 2144.7,1455.3 2155.1,1454.1 2165.6,1451.3 2176,1449.1 2186.4,1450.2 2196.9,1450.4 2207.3,1453.4 2217.7,1457.2 2228.2,1460.4 2238.6,1463.2 2249,1465.9 2259.5,1467.8 2269.9,1470.3 2280.3,1472.9 2290.8,1475.2 2301.2,1477.3 2311.6,1481 2322.1,1484.8 2332.5,1485.7 2342.9,1486.1 2353.4,1483.1 2363.8,1479.9 2374.2,1476.3 2384.7,1473.3 2395.1,1468.9 2405.6,1466.8 2416,1465.4 2426.4,1464.2 2436.9,1462.8 2447.3,1462.4 2457.7,1461.4 2468.2,1458.8 2478.6,1456.4 2489,1455.5 2499.5,1454.9 2509.9,1454.5 2520.3,1454.8 2530.8,1455 2541.2,1455.8 2551.6,1454.5 2562.1,1452.7 2572.5,1451.6 2583,1450.7 2593.4,1448.5 2603.8,1448.7 2614.3,1449.4 2624.7,1448.2 2635.1,1447.4 2645.6,1446.9 2656,1447.2 2666.4,1448.2 2676.9,1448.6 2687.3,1452 2697.7,1454.7 2708.2,1457.2 2718.6,1458.8 2729,1458.3 2739.5,1456 2749.9,1452.5 2760.3,1450.4 2770.8,1449.8 2781.2,1450.4 2791.7,1452 2802.1,1451.9 2812.5,1451 2823,1451.8 2833.4,1449.2 2843.8,1447 2854.3,1444.1 2864.7,1442.4 2875.1,1443.5 2885.6,1446.4 2896,1449.1 2906.4,1450.5 2916.9,1453.4 2927.3,1454.3 2937.7,1454.4 2948.2,1454.8 2958.6,1455.3 2969,1455.1 2979.5,1455.2 2989.9,1455.9 3000.4,1457.2 3010.8,1457.5 3021.2,1457.5 3031.7,1458.6 3042.1,1458.6 3052.5,1459.3 3063,1457.6 3073.4,1457.3 3083.8,1457 3094.3,1458.3 3104.7,1456.8 3115.1,1454.7 3125.6,1452.8 3136,1451.1 3146.4,1449.3 3149,1449.3" fill="none" stroke="#fde83b" stroke-width="2.2" stroke-linejoin="round"/>
</g>
<path d="M25 1515H3603" stroke="#4c4e56" stroke-width="2"/>
<path d="M3454 146V1583" stroke="#4c4e56" stroke-width="2"/>
<text x="25.8" y="47.6" font-size="29.6" fill="#131722" textLength="951.4" lengthAdjust="spacingAndGlyphs">Jake_Simmons published on TradingView.com, Aug 08, 2023 09:06 UTC</text>
<text x="45.9" y="115" font-size="30" fill="#4f4f4f" textLength="458.6" lengthAdjust="spacingAndGlyphs">Bitcoin / U.S. Dollar, 4h, BITFINEX</text>
<text x="525" y="115" font-size="30" fill="#4f4f4f" textLength="20" lengthAdjust="spacingAndGlyphs">O</text>
<text x="547.4" y="115" font-size="30" fill="#9598a1" textLength="100.1" lengthAdjust="spacingAndGlyphs">29202.0</text>
<text x="668.5" y="115" font-size="30" fill="#4f4f4f" textLength="17.5" lengthAdjust="spacingAndGlyphs">H</text>
<text x="688.5" y="115" font-size="30" fill="#9598a1" textLength="98.8" lengthAdjust="spacingAndGlyphs">29216.0</text>
<text x="809" y="115" font-size="30" fill="#4f4f4f" textLength="12.5" lengthAdjust="spacingAndGlyphs">L</text>
<text x="823.5" y="115" font-size="30" fill="#9598a1" textLength="99" lengthAdjust="spacingAndGlyphs">29202.0</text>
<text x="943" y="115" font-size="30" fill="#4f4f4f" textLength="15.5" lengthAdjust="spacingAndGlyphs">C</text>
<text x="960.9" y="115" font-size="30" fill="#9598a1" textLength="99" lengthAdjust="spacingAndGlyphs">29202.0</text>
<text x="1080.9" y="115" font-size="30" fill="#9598a1" textLength="171.1" lengthAdjust="spacingAndGlyphs">−2.0 (−0.01%)</text>
<text x="45.9" y="157.4" font-size="30" fill="#4f4f4f" textLength="121.8" lengthAdjust="spacingAndGlyphs">Vol · BTC</text>
<text x="187.7" y="157.4" font-size="30" fill="#22a699" textLength="14.9" lengthAdjust="spacingAndGlyphs">5</text>
<text x="45.9" y="240.7" font-size="30" fill="#4f4f4f" textLength="121.8" lengthAdjust="spacingAndGlyphs">Vol · BTC</text>
<text x="187.7" y="240.7" font-size="30" fill="#22a699" textLength="14.9" lengthAdjust="spacingAndGlyphs">5</text>
<text x="45.9" y="199.2" font-size="30" fill="#4f4f4f" textLength="261.6" lengthAdjust="spacingAndGlyphs">EMA 20/50/100/200</text>
<text x="327.5" y="199.2" font-size="30" fill="#ff0000" textLength="100.1" lengthAdjust="spacingAndGlyphs">29133.8</text>
<text x="447.2" y="199.2" font-size="30" fill="#ff7f00" textLength="100.2" lengthAdjust="spacingAndGlyphs">29193.3</text>
<text x="567.4" y="199.2" font-size="30" fill="#00ffff" textLength="99.7" lengthAdjust="spacingAndGlyphs">29352.6</text>
<text x="687.6" y="199.2" font-size="30" fill="#0000ff" textLength="99.7" lengthAdjust="spacingAndGlyphs">29456.0</text>
<text x="46.1" y="1371" font-size="30" fill="#4f4f4f" textLength="352.8" lengthAdjust="spacingAndGlyphs">RSI (14, close, SMA, 14, 2)</text>
<text x="421.2" y="1371" font-size="30" fill="#7e57c2" textLength="65.8" lengthAdjust="spacingAndGlyphs">53.41</text>
<text x="509.4" y="1371" font-size="30" fill="#fde83b" textLength="65.9" lengthAdjust="spacingAndGlyphs">48.31</text>
<text x="602.6" y="1371" font-size="30" fill="#4f4f4f" textLength="23.6" lengthAdjust="spacingAndGlyphs">∅</text>
<text x="651.2" y="1371" font-size="30" fill="#4f4f4f" textLength="23.1" lengthAdjust="spacingAndGlyphs">∅</text>
<text x="3473" y="225" font-size="28.5" fill="#4a4a4a" textLength="97.7" lengthAdjust="spacingAndGlyphs">31600.0</text>
<text x="3473" y="306.7" font-size="28.5" fill="#4a4a4a" textLength="97.7" lengthAdjust="spacingAndGlyphs">31200.0</text>
<text x="3473" y="388.3" font-size="28.5" fill="#4a4a4a" textLength="97.7" lengthAdjust="spacingAndGlyphs">30800.0</text>
<text x="3473" y="470" font-size="28.5" fill="#4a4a4a" textLength="97.7" lengthAdjust="spacingAndGlyphs">30400.0</text>
<text x="3473" y="551.7" font-size="28.5" fill="#4a4a4a" textLength="97.7" lengthAdjust="spacingAndGlyphs">30000.0</text>
<text x="3473" y="633.3" font-size="28.5" fill="#4a4a4a" textLength="97.7" lengthAdjust="spacingAndGlyphs">29600.0</text>
<text x="3473" y="796.7" font-size="28.5" fill="#4a4a4a" textLength="97.7" lengthAdjust="spacingAndGlyphs">28800.0</text>
<text x="3473" y="878.3" font-size="28.5" fill="#4a4a4a" textLength="97.7" lengthAdjust="spacingAndGlyphs">28400.0</text>
<text x="3473" y="960" font-size="28.5" fill="#4a4a4a" textLength="97.7" lengthAdjust="spacingAndGlyphs">28000.0</text>
<text x="3473" y="1041.7" font-size="28.5" fill="#4a4a4a" textLength="97.7" lengthAdjust="spacingAndGlyphs">27600.0</text>
<text x="3473" y="1123.3" font-size="28.5" fill="#4a4a4a" textLength="97.7" lengthAdjust="spacingAndGlyphs">27200.0</text>
<text x="3473" y="1205" font-size="28.5" fill="#4a4a4a" textLength="97.7" lengthAdjust="spacingAndGlyphs">26800.0</text>
<text x="3473" y="1286.7" font-size="28.5" fill="#4a4a4a" textLength="97.7" lengthAdjust="spacingAndGlyphs">26400.0</text>
<text x="3471.5" y="1373.8" font-size="28.5" fill="#4a4a4a" textLength="69.1" lengthAdjust="spacingAndGlyphs">80.00</text>
<text x="3471.5" y="1482.2" font-size="28.5" fill="#4a4a4a" textLength="69.1" lengthAdjust="spacingAndGlyphs">40.00</text>
<rect x="3464" y="78" width="129" height="57" rx="7" fill="#fff" stroke="#e0e3eb" stroke-width="1.5"/>
<text x="3487" y="116.3" font-size="27" fill="#131722" textLength="45.6" lengthAdjust="spacingAndGlyphs">USD</text>
<path d="M3453 635.7H3579Q3583 635.7 3583 639.7V670.4Q3583 674.4 3579 674.4H3453z" fill="#2962ff"/>
<text x="3473" y="664.9" font-size="28.5" fill="#ffffff" textLength="97.7" lengthAdjust="spacingAndGlyphs">29445.4</text>
<path d="M3453 685H3589Q3593 685 3593 689V752.6Q3593 756.6 3589 756.6H3453z" fill="#26a69a"/>
<text x="3472.3" y="714.1" font-size="28.5" fill="#ffffff" textLength="99.1" lengthAdjust="spacingAndGlyphs">29202.0</text>
<text x="3472.3" y="746.5" font-size="28.5" fill="#d4ede9" textLength="108.5" lengthAdjust="spacingAndGlyphs">02:53:54</text>
<path d="M3453 757H3579Q3583 757 3583 761V791Q3583 795 3579 795H3453z" fill="#2962ff"/>
<text x="3473" y="786" font-size="28.5" fill="#ffffff" textLength="97.7" lengthAdjust="spacingAndGlyphs">29002.5</text>
<path d="M3453 900.7H3579Q3583 900.7 3583 904.7V935.3Q3583 939.3 3579 939.3H3453z" fill="#2962ff"/>
<text x="3473" y="929.8" font-size="28.5" fill="#ffffff" textLength="97.7" lengthAdjust="spacingAndGlyphs">28149.2</text>
<path d="M3451 685.5H3339Q3335 685.5 3335 689.5V720.5Q3335 724.5 3339 724.5H3451z" fill="#26a69a"/>
<text x="3345.5" y="713.8" font-size="28.5" fill="#ffffff" textLength="93.6" lengthAdjust="spacingAndGlyphs">BTCUSD</text>
<text x="182.9" y="1559" font-size="28.5" fill="#4a4a4a" text-anchor="middle">22</text>
<text x="433.3" y="1559" font-size="28.5" fill="#4a4a4a" text-anchor="middle">26</text>
<text x="746.4" y="1559" font-size="28.5" fill="#4a4a4a" font-weight="bold" text-anchor="middle">Jul</text>
<text x="934.2" y="1559" font-size="28.5" fill="#4a4a4a" text-anchor="middle">4</text>
<text x="1122" y="1559" font-size="28.5" fill="#4a4a4a" text-anchor="middle">7</text>
<text x="1309.9" y="1559" font-size="28.5" fill="#4a4a4a" text-anchor="middle">10</text>
<text x="1497.7" y="1559" font-size="28.5" fill="#4a4a4a" text-anchor="middle">13</text>
<text x="1748.2" y="1559" font-size="28.5" fill="#4a4a4a" text-anchor="middle">17</text>
<text x="1936" y="1559" font-size="28.5" fill="#4a4a4a" text-anchor="middle">20</text>
<text x="2186.4" y="1559" font-size="28.5" fill="#4a4a4a" text-anchor="middle">24</text>
<text x="2374.2" y="1559" font-size="28.5" fill="#4a4a4a" text-anchor="middle">27</text>
<text x="2687.3" y="1559" font-size="28.5" fill="#4a4a4a" font-weight="bold" text-anchor="middle">Aug</text>
<text x="2875.1" y="1559" font-size="28.5" fill="#4a4a4a" text-anchor="middle">4</text>
<text x="3063" y="1559" font-size="28.5" fill="#4a4a4a" text-anchor="middle">7</text>
<text x="3250.8" y="1559" font-size="28.5" fill="#4a4a4a" text-anchor="middle">10</text>
<path d="M25.6 1614.4H44.3V1638.9H35V1623.9H25.6z" fill="#131722"/>
<circle cx="52.5" cy="1619.7" r="5" fill="#131722"/>
<path d="M63.2 1614.4H73.2L63.7 1638.9H53z" fill="#131722"/>
<text x="82.9" y="1640.1" font-size="34.5" fill="#131722" textLength="176.8" lengthAdjust="spacingAndGlyphs">TradingView</text>
</svg></body></html>
